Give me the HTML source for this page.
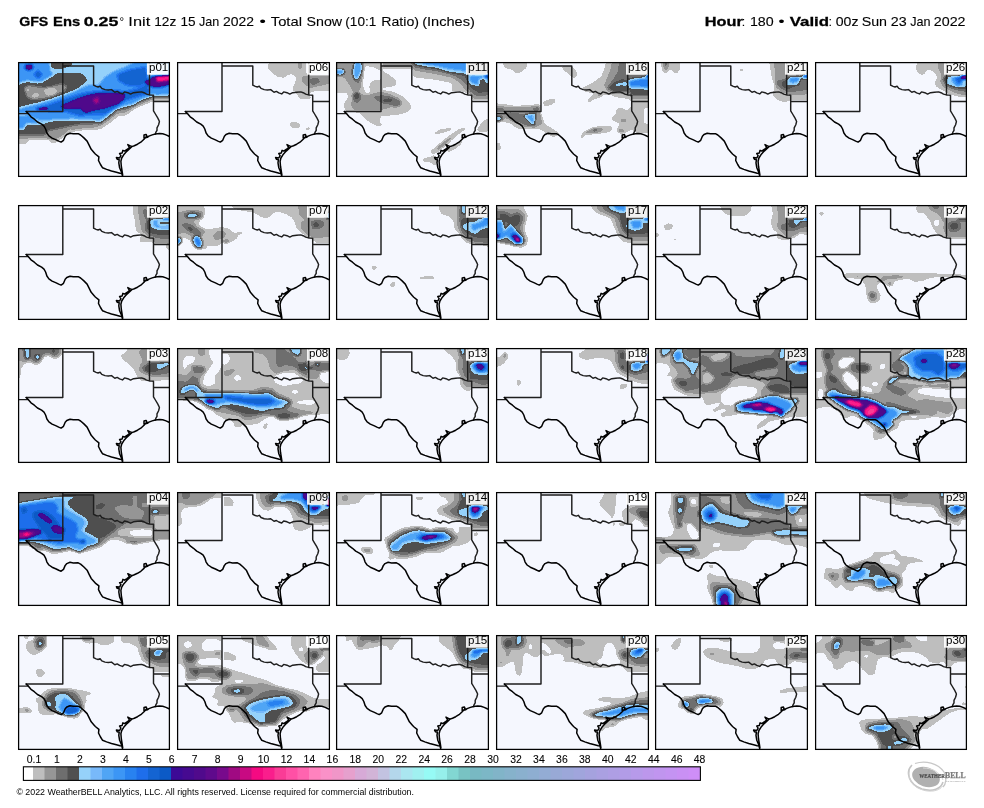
<!DOCTYPE html><html><head><meta charset="utf-8"><title>GFS Ens Total Snow</title>
<style>html,body{margin:0;padding:0;background:#fff}svg{display:block}text{font-family:"Liberation Sans",sans-serif;fill:#000}.ser{font-family:"Liberation Serif",serif}</style></head><body>
<svg width="984" height="808" viewBox="0 0 984 808">
<defs>
<filter id="cm" x="-2%" y="-2%" width="104%" height="104%" color-interpolation-filters="sRGB">
<feGaussianBlur stdDeviation="1.0"/>
<feComponentTransfer><feFuncR type="discrete" tableValues="0.9608 0.9608 0.9608 0.9608 0.9608 0.9608 0.7451 0.7451 0.7451 0.7451 0.7451 0.7451 0.5882 0.5882 0.5882 0.5882 0.5882 0.5882 0.4314 0.4314 0.4314 0.4314 0.4314 0.4314 0.3137 0.3137 0.3137 0.3137 0.3137 0.3137 0.5882 0.5882 0.5882 0.5882 0.5882 0.5882 0.4706 0.4706 0.4706 0.4706 0.3137 0.3137 0.3137 0.3137 0.2353 0.2353 0.2353 0.2353 0.1569 0.1569 0.1569 0.1569 0.1176 0.1176 0.1176 0.1176 0.0784 0.0784 0.0784 0.0784 0.0471 0.0471 0.0471 0.0471 0.2353 0.2353 0.2353 0.2353 0.2745 0.2745 0.2745 0.2745 0.3137 0.3137 0.3137 0.3137 0.3725 0.3725 0.3725 0.3725 0.4706 0.4706 0.4706 0.4706 0.6275 0.6275 0.6275 0.6275 0.7843 0.7843 0.7843 0.7843 0.9608 0.9608 0.9608 0.9608 0.9804 0.9804 0.9804 0.9804 0.9804 0.9804 0.9804 0.9804 1.0000 1.0000 1.0000 1.0000 1.0000 1.0000 1.0000 1.0000 1.0000 1.0000 1.0000 1.0000 0.9804 0.9804 0.9804 0.9804 0.9804 0.9804 0.9804 0.9804 0.9804 0.9804 0.9804 0.9804"/><feFuncG type="discrete" tableValues="0.9725 0.9725 0.9725 0.9725 0.9725 0.9725 0.7451 0.7451 0.7451 0.7451 0.7451 0.7451 0.5882 0.5882 0.5882 0.5882 0.5882 0.5882 0.4314 0.4314 0.4314 0.4314 0.4314 0.4314 0.3137 0.3137 0.3137 0.3137 0.3137 0.3137 0.8235 0.8235 0.8235 0.8235 0.8235 0.8235 0.7255 0.7255 0.7255 0.7255 0.6471 0.6471 0.6471 0.6471 0.5882 0.5882 0.5882 0.5882 0.5098 0.5098 0.5098 0.5098 0.4314 0.4314 0.4314 0.4314 0.3922 0.3922 0.3922 0.3922 0.3529 0.3529 0.3529 0.3529 0.0392 0.0392 0.0392 0.0392 0.0392 0.0392 0.0392 0.0392 0.0392 0.0392 0.0392 0.0392 0.0392 0.0392 0.0392 0.0392 0.0392 0.0392 0.0392 0.0392 0.0392 0.0392 0.0392 0.0392 0.0392 0.0392 0.0392 0.0392 0.0392 0.0392 0.0392 0.0392 0.1176 0.1176 0.1176 0.1176 0.2353 0.2353 0.2353 0.2353 0.3137 0.3137 0.3137 0.3137 0.3922 0.3922 0.3922 0.3922 0.5098 0.5098 0.5098 0.5098 0.5686 0.5686 0.5686 0.5686 0.5686 0.5686 0.5686 0.5686 0.5686 0.5686 0.5686 0.5686"/><feFuncB type="discrete" tableValues="0.9961 0.9961 0.9961 0.9961 0.9961 0.9961 0.7451 0.7451 0.7451 0.7451 0.7451 0.7451 0.5882 0.5882 0.5882 0.5882 0.5882 0.5882 0.4314 0.4314 0.4314 0.4314 0.4314 0.4314 0.3137 0.3137 0.3137 0.3137 0.3137 0.3137 0.9804 0.9804 0.9804 0.9804 0.9804 0.9804 0.9804 0.9804 0.9804 0.9804 0.9608 0.9608 0.9608 0.9608 0.9608 0.9608 0.9608 0.9608 0.9412 0.9412 0.9412 0.9412 0.9216 0.9216 0.9216 0.9216 0.8235 0.8235 0.8235 0.8235 0.7765 0.7765 0.7765 0.7765 0.5882 0.5882 0.5882 0.5882 0.5686 0.5686 0.5686 0.5686 0.5490 0.5490 0.5490 0.5490 0.5490 0.5490 0.5490 0.5490 0.5490 0.5490 0.5490 0.5490 0.5098 0.5098 0.5098 0.5098 0.5098 0.5098 0.5098 0.5098 0.5098 0.5098 0.5098 0.5098 0.5490 0.5490 0.5490 0.5490 0.5882 0.5882 0.5882 0.5882 0.6471 0.6471 0.6471 0.6471 0.6863 0.6863 0.6863 0.6863 0.7451 0.7451 0.7451 0.7451 0.7843 0.7843 0.7843 0.7843 0.7843 0.7843 0.7843 0.7843 0.7843 0.7843 0.7843 0.7843"/><feFuncA type="linear" slope="0" intercept="1"/></feComponentTransfer>
</filter>
<g id="tx" fill="none" stroke-linejoin="round" stroke-linecap="round">
<path d="M44.8,-1 L44.8,49.4 L8.3,49.4 M-1,51.6 L9.6,51.6 M44.8,3.9 L75.6,3.9 L75.6,23.2 M75.6,23.2 L78.1,24.4 L80.1,25 L82.1,24.2 L83.8,26.4 L87,27.6 L90.3,28 L93.5,27.6 L96.8,30.2 L99.2,29.4 L101.6,30.9 L104.5,31.9 L106.5,29.9 L109.8,30.7 L112.6,32.1 L115.5,30.7 L119.5,30.2 L123.6,29.9 L126,30.7 L128.5,32.1 L131.3,32.9 L135.5,33.2 L135.5,48.8 M135.5,48.8 L137.4,52 L139.4,55.3 L140.8,58.1 L141.4,59.6 L140.6,62.7 L139,65.9 L139,68.4 L137.8,70.4 L137.4,72 M131.5,-1 L131.5,32.9 M135.5,39.4 L153,39.4" stroke="#1e1e1e" stroke-width="1.45"/>
<path d="M8.1,49.5 L10.6,51.9 L13,54.8 L16.3,57.2 L19.5,60 L23.6,62.2 L26,64.1 L27.6,67 L28.9,71 L30.9,73.9 L34.1,76.1 L38.2,77.9 L40.7,79.1 L43.1,80.1 L45.5,78.3 L47.2,74.3 L48.8,72.5 L52,71.2 L55.3,71.8 L60.2,71.7 L62.6,73 L65.9,75.9 L69.1,79.1 L71.1,83.2 L73.2,87.3 L76.4,90.9 L77.3,92 L80.9,94.8 L80.5,98.5 L82.5,102.5 L84.6,105.8 L88.6,107.4 L93.5,109 L98.4,110.3 L102,111.3 L104.1,111.6 M104.3,111.6 L104.6,116 M137.4,72 L141.5,71.5 L144.7,71.8 L148,72.9 L151,74.2 L153,75 M137.4,72 L134.2,72.9 L130.9,74.1 L129.3,75.3 L127.3,75.9 L126,76.1 L126,72.9 L128.1,72.4 L128.9,74.1 L127.3,75.7 L126,77.3 L122.8,80.2 L119.5,82.2 L116.3,83.7 L113.8,84.6 L112.2,83.8 L109.8,82.6 L111.4,85.5 L109,87.5 L106.5,89.1 L104.9,88.3 L104.1,91.1 L101.6,91.6 L102.9,93.6 L101.6,96 L98.4,95.6 L99.2,97.2 L101.2,97.7 L100.8,100.9 L101.6,105.8 L103.3,109.8 L104.2,113.1 M113.8,84.6 L109,89.1 L105.7,92.8 L103.7,96 L102.9,99.3 L103.3,104.2 L104.1,109 L104.7,113.1" stroke="#000" stroke-width="1.5"/>
</g>
<clipPath id="c00"><rect x="18" y="62" width="152" height="115"/></clipPath>
<clipPath id="c01"><rect x="177" y="62" width="153" height="115"/></clipPath>
<clipPath id="c02"><rect x="336" y="62" width="153" height="115"/></clipPath>
<clipPath id="c03"><rect x="496" y="62" width="153" height="115"/></clipPath>
<clipPath id="c04"><rect x="655" y="62" width="153" height="115"/></clipPath>
<clipPath id="c05"><rect x="815" y="62" width="152" height="115"/></clipPath>
<clipPath id="c10"><rect x="18" y="205" width="152" height="115"/></clipPath>
<clipPath id="c11"><rect x="177" y="205" width="153" height="115"/></clipPath>
<clipPath id="c12"><rect x="336" y="205" width="153" height="115"/></clipPath>
<clipPath id="c13"><rect x="496" y="205" width="153" height="115"/></clipPath>
<clipPath id="c14"><rect x="655" y="205" width="153" height="115"/></clipPath>
<clipPath id="c15"><rect x="815" y="205" width="152" height="115"/></clipPath>
<clipPath id="c20"><rect x="18" y="348" width="152" height="115"/></clipPath>
<clipPath id="c21"><rect x="177" y="348" width="153" height="115"/></clipPath>
<clipPath id="c22"><rect x="336" y="348" width="153" height="115"/></clipPath>
<clipPath id="c23"><rect x="496" y="348" width="153" height="115"/></clipPath>
<clipPath id="c24"><rect x="655" y="348" width="153" height="115"/></clipPath>
<clipPath id="c25"><rect x="815" y="348" width="152" height="115"/></clipPath>
<clipPath id="c30"><rect x="18" y="492" width="152" height="114"/></clipPath>
<clipPath id="c31"><rect x="177" y="492" width="153" height="114"/></clipPath>
<clipPath id="c32"><rect x="336" y="492" width="153" height="114"/></clipPath>
<clipPath id="c33"><rect x="496" y="492" width="153" height="114"/></clipPath>
<clipPath id="c34"><rect x="655" y="492" width="153" height="114"/></clipPath>
<clipPath id="c35"><rect x="815" y="492" width="152" height="114"/></clipPath>
<clipPath id="c40"><rect x="18" y="635" width="152" height="115"/></clipPath>
<clipPath id="c41"><rect x="177" y="635" width="153" height="115"/></clipPath>
<clipPath id="c42"><rect x="336" y="635" width="153" height="115"/></clipPath>
<clipPath id="c43"><rect x="496" y="635" width="153" height="115"/></clipPath>
<clipPath id="c44"><rect x="655" y="635" width="153" height="115"/></clipPath>
<clipPath id="c45"><rect x="815" y="635" width="152" height="115"/></clipPath>
</defs>
<rect width="984" height="808" fill="#fff"/>
<g opacity="0.9999">
<g clip-path="url(#c00)">
<g filter="url(#cm)">
<rect x="8" y="52" width="172" height="135" fill="#000"/>
<path fill="rgb(18,18,18)" d="M10.3,54.3 L177.7,54.3 L177.7,101.4 L153.9,101.4 L146.2,104.5 L135.4,109.1 L126.1,116.1 L118.4,116.8 L110.7,123 L101.4,129.2 L95.2,130.7 L82.9,130.7 L72.1,132.3 L64.3,136.9 L56.6,143.1 L51.2,143.9 L48.9,140 L28.8,140 L27.3,143.9 L10.3,143.9 Z"/>
<path fill="rgb(30,30,30)" d="M10.3,54.3 L177.7,54.3 L177.7,99.1 L153.9,99.1 L146.2,102.2 L135.4,106.8 L126.1,112.2 L116.9,113.7 L109.1,119.9 L99.9,126.1 L92.1,127.7 L79.8,127.7 L69,129.2 L62.8,135.4 L53.5,140 L45.8,138.5 L10.3,138.5 Z"/>
<path fill="rgb(54,54,54)" d="M10.3,54.3 L177.7,54.3 L177.7,97.2 L152.4,97.2 L144.7,100.3 L133.9,104.9 L126.1,108.8 L116.9,110.3 L110.7,116.5 L99.9,123.8 L95.2,123.5 L79.8,124.3 L64.3,127.3 L48.9,130.4 L44.3,135.1 L10.3,135.1 Z"/>
<path fill="rgb(30,30,30)" d="M69,126.9 L79.8,125.3 L82.9,128.4 L72.1,130 Z"/>
<path fill="rgb(66,66,66)" d="M10.3,54.3 L177.7,54.3 L177.7,95.2 L153.9,95.2 L152.4,96.8 L141.6,99.8 L133.9,106 L124.6,106.8 L113.8,111.4 L107.6,116.8 L99.9,123.8 L95.2,119.2 L79.8,120.7 L64.3,121.5 L53.5,120.7 L44.3,123.8 L39.6,125.3 L25.7,123.8 L24.2,130 L10.3,130 Z"/>
<path fill="rgb(54,54,54)" d="M10.3,89.8 L21.1,83.6 L27.3,81.3 L38.1,83.6 L48.9,77.4 L58.2,72.8 L69,73.6 L79.8,72.8 L84.4,75.1 L87.5,80.5 L79.8,86.7 L75.2,91.3 L62.8,95.2 L55.1,99.8 L38.1,103.7 L27.3,105.3 L10.3,109.9 Z"/>
<path fill="rgb(30,30,30)" d="M24.2,88.3 L28.8,85.2 L38.1,86.7 L48.9,88.3 L55.1,85.2 L62.8,83.6 L67.4,86.7 L64.3,91.3 L56.6,94.4 L48.9,97.5 L41.2,99.1 L33.4,99.8 L27.3,97.5 Z"/>
<path fill="rgb(18,18,18)" d="M43.5,91.3 L46.6,87.5 L52.8,86.7 L57.4,90.6 L54.3,95.2 L47.3,96 Z"/>
<path fill="rgb(18,18,18)" d="M31.1,95.2 L35.8,92.6 L40.4,94.4 L36.5,97.8 L31.9,97.8 Z"/>
<path fill="rgb(18,18,18)" d="M25.7,89.8 L28,87.5 L30.4,89.8 L28,92.1 Z"/>
<path fill="rgb(54,54,54)" d="M48.9,54.3 L72.1,54.3 L72.1,65.1 L64.3,68.2 L58.2,69.7 L50.4,67.4 Z"/>
<path fill="rgb(92,92,92)" d="M10.3,111.4 L27.3,106.8 L48.9,100.6 L64.3,95.2 L79.8,89 L87.5,85.2 L98.3,85.2 L104.5,77.4 L113.8,71.3 L126.1,66.6 L146.2,55.8 L147.8,74.4 L149.3,92.9 L152.4,95.2 L141.6,99.1 L132.3,103.7 L123,106 L113.8,109.9 L104.5,117.6 L98.3,120.7 L87.5,119.2 L72.1,118.4 L56.6,119.2 L41.2,120.7 L33.4,117.6 L25.7,113 L10.3,114.5 Z"/>
<path fill="rgb(92,92,92)" d="M10.3,54.3 L48.9,54.3 L50.4,71.3 L53.5,74.4 L41.2,82.1 L27.3,80.5 L21.1,82.1 L10.3,85.2 Z"/>
<path fill="rgb(116,116,116)" d="M33.4,74.4 L38.1,69.7 L42.7,74.4 L38.1,79 Z"/>
<path fill="rgb(92,92,92)" d="M149.3,75.9 L177.7,75.9 L177.7,92.9 L157,95.2 L149.3,92.9 Z"/>
<path fill="rgb(92,92,92)" d="M10.3,116.1 L28.8,115.3 L39.6,123 L27.3,123 L22.6,128.4 L10.3,128.4 Z"/>
<path fill="rgb(116,116,116)" d="M38.1,108.3 L64.3,99.1 L82.9,92.9 L95.2,91.3 L110.7,89.8 L126.1,91.3 L138.5,88.3 L147.8,83.6 L149.3,92.9 L135.4,97.5 L126.1,100.6 L116.9,106.8 L104.5,114.5 L92.1,114.5 L79.8,116.1 L64.3,111.4 L48.9,111.4 Z"/>
<path fill="rgb(116,116,116)" d="M116.9,74.4 L129.2,69.7 L146.2,66.6 L147.8,82.1 L138.5,86.7 L126.1,85.2 L118.4,80.5 Z"/>
<path fill="rgb(148,148,148)" d="M59.7,106.8 L69,102.2 L82.9,96.8 L95.2,93.7 L110.7,92.9 L124.6,93.7 L124.6,98.3 L118.4,103.7 L104.5,108.3 L92.1,110.7 L86,113 L79.8,108.3 L67.4,109.1 Z"/>
<path fill="rgb(148,148,148)" d="M35.8,108.3 L45.8,106.8 L48.9,109.9 L38.1,110.2 Z"/>
<path fill="rgb(148,148,148)" d="M25,65.1 L31.9,63.9 L33.4,68.2 L28.8,70.5 L25,69 Z"/>
<path fill="rgb(148,148,148)" d="M144.7,81.3 L149.3,79 L152.4,75.9 L177.7,75.1 L177.7,82.1 L163.2,86.7 L153.9,87.5 L146.2,84.4 Z"/>
<path fill="rgb(172,172,172)" d="M92.1,99.1 L98.3,96.8 L99.9,102.2 L95.2,104.5 Z"/>
<path fill="rgb(196,196,196)" d="M155.5,75.9 L177.7,75.1 L177.7,79 L163.2,81.3 L157,82.1 Z"/>
</g>
<use href="#tx" transform="translate(18,62)"/>
</g>
<rect x="147" y="63.2" width="21.6" height="11.5" fill="#fff" fill-opacity="0.9"/>
<text x="149" y="70.6" font-size="10.6" textLength="19.3" lengthAdjust="spacingAndGlyphs">p01</text>
<rect x="18.6" y="62.6" width="150.8" height="113.8" fill="none" stroke="#000" stroke-width="1.25"/>
<g clip-path="url(#c01)">
<g filter="url(#cm)">
<rect x="167" y="52" width="173" height="135" fill="#000"/>
<path fill="rgb(18,18,18)" d="M267.4,64.3 L275.9,55.5 L306.8,55.5 L306.8,74.4 L309.1,75.1 L336.7,75.1 L336.7,91.3 L311.4,92.1 L309.8,95.2 L312.9,99.1 L300.6,99.8 L297.5,96.8 L295.9,92.9 L291.3,89.8 L294.4,83.6 L295.9,77.4 L291.3,74.4 L286.7,75.9 L285.1,78.2 L277.4,77.4 L271.2,72.8 L267.4,69 Z"/>
<path fill="rgb(30,30,30)" d="M297.5,65.1 L300.6,55.8 L302.1,68.2 L299,69.7 Z"/>
<path fill="rgb(30,30,30)" d="M302.1,75.9 L308.3,75.1 L336.7,75.9 L336.7,82.1 L322.2,85.2 L316,86.7 L309.8,88.3 L303.7,83.6 L301.3,79.8 Z"/>
<path fill="rgb(42,42,42)" d="M309.8,79 L317.6,77.4 L320.7,82.1 L312.9,85.2 L309.8,83.6 Z"/>
<path fill="rgb(18,18,18)" d="M288.2,123.8 L292.1,121.5 L296.7,121.5 L300.6,123.8 L300.6,127.7 L295.9,129.2 L291.3,127.7 Z"/>
<path fill="rgb(18,18,18)" d="M304.4,128.4 L309.8,126.1 L310.6,129.2 L306.8,131.2 Z"/>
</g>
<use href="#tx" transform="translate(177.2,62)"/>
</g>
<rect x="307" y="63.2" width="21.6" height="11.5" fill="#fff" fill-opacity="0.9"/>
<text x="309" y="70.6" font-size="10.6" textLength="19.3" lengthAdjust="spacingAndGlyphs">p06</text>
<rect x="177.6" y="62.6" width="151.8" height="113.8" fill="none" stroke="#000" stroke-width="1.25"/>
<g clip-path="url(#c02)">
<g filter="url(#cm)">
<rect x="326" y="52" width="173" height="135" fill="#000"/>
<path fill="rgb(18,18,18)" d="M329.3,54.3 L496.7,54.3 L496.7,100.6 L472.9,100.6 L469.8,95.2 L463.7,92.1 L454.4,91.3 L451.3,92.9 L451.3,83.6 L437.4,80.5 L423.5,79 L412.7,77.4 L412.7,66.6 L395.7,65.9 L383.3,66.6 L383.3,71.3 L389.5,74.4 L395.7,79 L397.2,85.2 L391.1,87.5 L382.6,88.3 L382.6,89.8 L391.1,90.6 L401.9,95.2 L409.6,102.2 L412.7,107.6 L408.1,112.2 L398.8,115.3 L389.5,116.1 L381.8,116.1 L379.5,120.7 L383.3,125.3 L378.7,126.9 L371,123.8 L364.8,119.2 L360.2,113.7 L349.4,111.4 L344.7,111.4 L343.2,103.7 L347.8,97.5 L346.3,92.9 L329.3,94.4 Z"/>
<path fill="rgb(0,0,0)" d="M365.6,66.6 L372.5,67.4 L381,71.3 L381,79 L374.1,79.8 L370.2,82.1 L368.7,86.7 L370.2,92.1 L366.3,92.9 L363.3,85.2 L364,74.4 Z"/>
<path fill="rgb(30,30,30)" d="M352.4,99.1 L357.1,92.9 L361.7,94.4 L367.9,95.2 L374.1,92.9 L381.8,92.1 L391.1,94.4 L398.8,98.3 L401.9,102.9 L398.8,106.8 L389.5,107.6 L381.8,109.9 L354,109.9 L350.9,105.3 Z"/>
<path fill="rgb(30,30,30)" d="M329.3,54.3 L364.8,54.3 L363.3,71.3 L361.7,80.5 L360.2,89.8 L354,92.9 L349.4,85.2 L344.7,77.4 L329.3,75.9 Z"/>
<path fill="rgb(30,30,30)" d="M383.3,54.3 L496.7,54.3 L496.7,99.1 L472.9,99.1 L469.8,93.7 L465.2,89.8 L459,82.1 L451.3,77.4 L437.4,74.4 L423.5,72 L414.2,70.5 L412.7,68.2 L383.3,68.2 Z"/>
<path fill="rgb(42,42,42)" d="M372.5,96.8 L381.8,95.2 L391.1,96.8 L400.3,100.6 L401.1,105.3 L395.7,107.1 L389.5,104.5 L381.8,102.9 L377.2,100.6 Z"/>
<path fill="rgb(42,42,42)" d="M350.9,71.3 L354,65.1 L361.7,65.1 L361.7,77.4 L358.6,83.6 L354,80.5 Z"/>
<path fill="rgb(42,42,42)" d="M351.7,95.2 L355.5,91.3 L360.2,92.9 L361.7,97.5 L358.6,102.9 L354,102.2 Z"/>
<path fill="rgb(42,42,42)" d="M406.5,54.3 L496.7,54.3 L496.7,92.9 L483.7,96 L476,96 L469.8,91.3 L466.8,85.2 L460.6,79 L451.3,74.4 L437.4,71.3 L423.5,69 L414.2,67.4 Z"/>
<path fill="rgb(54,54,54)" d="M383.3,99.1 L391.1,98.3 L393.4,100.6 L389.5,102.5 L383.3,102.5 Z"/>
<path fill="rgb(54,54,54)" d="M354,93.7 L357.9,92.1 L360.2,96 L357.9,99.8 L354.3,98.3 Z"/>
<path fill="rgb(54,54,54)" d="M411.1,54.3 L496.7,54.3 L496.7,89.8 L479.1,92.9 L471.4,88.3 L465.2,75.9 L448.2,72.8 L435.9,69 L423.5,67.4 L414.2,65.1 Z"/>
<path fill="rgb(66,66,66)" d="M406.5,54.3 L466.8,54.3 L466.8,74.4 L496.7,75.1 L496.7,82.1 L485.3,82.9 L479.1,83.6 L471.4,85.2 L468.3,82.1 L465.2,73.6 L448.2,72 L435.9,67.4 L423.5,65.9 L414.2,64.3 Z"/>
<path fill="rgb(92,92,92)" d="M414.2,54.3 L466.8,54.3 L466.8,71.3 L454.4,69.7 L445.1,68.2 L435.9,65.9 L423.5,64.3 Z"/>
<path fill="rgb(92,92,92)" d="M469.8,75.9 L496.7,75.9 L496.7,80.5 L479.1,79 L478.3,85.2 L472.9,83.6 L469.8,80.5 Z"/>
<path fill="rgb(54,54,54)" d="M479.1,79 L485.3,77.4 L485.3,83.6 L479.1,85.2 Z"/>
<path fill="rgb(84,84,84)" d="M354,65.1 L357.1,55.5 L361.7,64.3 L361.7,71.3 L358.6,77.4 L355.5,80.5 L353.2,74.4 Z"/>
<path fill="rgb(84,84,84)" d="M329.3,69.7 L343.2,69 L344.7,72.8 L341.6,75.1 L329.3,73.6 Z"/>
<path fill="rgb(148,148,148)" d="M485.3,75.1 L496.7,75.1 L496.7,77.4 L485.3,77.4 Z"/>
<path fill="rgb(18,18,18)" d="M433.5,133.1 L439,129.2 L451.3,126.9 L452.9,130 L443.6,133.1 L435.9,135.4 Z"/>
<path fill="rgb(18,18,18)" d="M429.7,150.8 L435.9,146.2 L442,140.8 L449.8,134.6 L459,128.4 L466.8,126.1 L465.2,130 L459,134.6 L451.3,140.8 L448.2,145.4 L442,148.5 L437.4,153.1 L431.2,154.7 Z"/>
<path fill="rgb(18,18,18)" d="M421.2,159.3 L426.6,157 L435.9,154.7 L437.4,160.9 L435.9,167 L429.7,162.4 L423.5,162.4 Z"/>
<path fill="rgb(18,18,18)" d="M413.5,142.3 L417.3,140.8 L418.9,142.3 L415,144.6 Z"/>
<path fill="rgb(18,18,18)" d="M445.1,150 L451.3,147 L460.6,140.8 L465.2,139.2 L460.6,145.4 L454.4,150 L448.2,153.1 Z"/>
<path fill="rgb(18,18,18)" d="M476,130 L482.2,120.7 L496.7,114.5 L496.7,130 L480.7,133.1 Z"/>
<path fill="rgb(30,30,30)" d="M435.9,148.5 L442,143.1 L449.8,137.7 L454.4,134.6 L451.3,139.2 L445.1,144.6 L439,150.8 Z"/>
</g>
<use href="#tx" transform="translate(336.2,62)"/>
</g>
<rect x="466" y="63.2" width="21.6" height="11.5" fill="#fff" fill-opacity="0.9"/>
<text x="468" y="70.6" font-size="10.6" textLength="19.3" lengthAdjust="spacingAndGlyphs">p11</text>
<rect x="336.6" y="62.6" width="151.8" height="113.8" fill="none" stroke="#000" stroke-width="1.25"/>
<g clip-path="url(#c03)">
<g filter="url(#cm)">
<rect x="486" y="52" width="173" height="135" fill="#000"/>
<path fill="rgb(18,18,18)" d="M500.6,54.3 L528.4,54.3 L526.9,68.2 L520.7,72.8 L516.1,74.4 L511.4,69.7 L503.7,68.2 Z"/>
<path fill="rgb(18,18,18)" d="M488.3,102.2 L505.3,103.7 L516.1,106 L526.9,104.5 L540.8,103.7 L540.8,111.4 L545.4,123.8 L557.8,131.5 L560.9,134.6 L553.2,137.7 L547,134.6 L540.8,130 L530,128.4 L522.3,130 L516.1,128.4 L509.9,123.8 L502.2,122.2 L488.3,123.8 Z"/>
<path fill="rgb(18,18,18)" d="M542.3,101.4 L548.5,99.1 L555.5,98.3 L556.2,102.2 L550.1,106 L543.9,106.8 Z"/>
<path fill="rgb(18,18,18)" d="M560.1,65.9 L571.7,65.9 L576.3,69.7 L577.9,75.9 L573.2,79 L568.6,74.4 L564,71.3 Z"/>
<path fill="rgb(18,18,18)" d="M582.5,86.7 L588.7,84.4 L594.9,80.5 L601,75.9 L604.1,68.2 L607.2,54.3 L655.7,54.3 L655.7,133.1 L635,133.1 L631.9,130 L625.8,133.1 L619.6,133.1 L616.5,128.4 L619.6,123.8 L613.4,121.5 L610.3,117.6 L614.9,114.5 L616.5,108.3 L619.6,106.8 L627.3,109.9 L630.4,106.8 L630.4,100.6 L625.8,99.1 L614.9,97.5 L610.3,95.2 L604.1,95.2 L601,97.5 L594.9,99.8 L588.7,102.9 L586.4,100.6 L590.2,96 L594.9,92.9 L588.7,92.9 L582.5,91.3 Z"/>
<path fill="rgb(18,18,18)" d="M580.2,136.1 L582.5,131.5 L591.8,127.7 L601,125.3 L610.3,125.3 L613.4,128.4 L610.3,132.3 L602.6,133.8 L591.8,134.6 L584,136.1 L583.3,139.2 L580.7,139.2 Z"/>
<path fill="rgb(18,18,18)" d="M589.1,70.5 L591,68.6 L592.9,70.5 L591,72.3 Z"/>
<path fill="rgb(18,18,18)" d="M488.3,142.3 L500.6,142.3 L501.4,150 L488.3,153.1 Z"/>
<path fill="rgb(0,0,0)" d="M644.3,108.3 L654.3,107.6 L654.3,123.8 L644.3,123 Z"/>
<path fill="rgb(30,30,30)" d="M488.3,105.3 L505.3,106.8 L526.9,106.8 L540,106 L540,111.4 L542.3,123.8 L534.6,127.7 L526.9,126.9 L519.2,125.3 L511.4,120.7 L503.7,117.6 L488.3,120.7 Z"/>
<path fill="rgb(30,30,30)" d="M604.1,85.2 L607.2,77.4 L610.3,69.7 L613.4,54.3 L655.7,54.3 L655.7,99.1 L631.9,99.1 L628.8,92.9 L613.4,93.7 L607.2,91.3 Z"/>
<path fill="rgb(30,30,30)" d="M584,132.3 L591.8,128.4 L601,126.9 L604.1,130 L598,133.1 L588.7,133.8 Z"/>
<path fill="rgb(30,30,30)" d="M616.5,130 L619.6,128.4 L624.2,130 L624.2,133.1 L619.6,133.8 Z"/>
<path fill="rgb(30,30,30)" d="M596.4,93.7 L601,92.9 L602.6,95.2 L598,96.8 Z"/>
<path fill="rgb(30,30,30)" d="M619.6,119.2 L625.8,118.4 L627.3,121.5 L621.1,122.2 Z"/>
<path fill="rgb(42,42,42)" d="M506.8,112.2 L516.1,113 L523.8,114.5 L526.9,120.7 L531.5,123.8 L534.6,126.9 L526.9,126.1 L519.2,122.2 L511.4,119.2 Z"/>
<path fill="rgb(42,42,42)" d="M607.2,86.7 L613.4,79 L618,71.3 L619.6,55.8 L625.8,55.8 L625.8,75.1 L655.7,75.1 L655.7,96 L631.9,96 L627.3,92.1 L613.4,92.1 Z"/>
<path fill="rgb(42,42,42)" d="M591.8,129.2 L596.4,127.7 L598,130.7 L593.3,132.3 Z"/>
<path fill="rgb(42,42,42)" d="M488.3,106.8 L503.7,107.6 L503.7,112.2 L488.3,112.2 Z"/>
<path fill="rgb(42,42,42)" d="M531.5,107.6 L539.3,106.8 L539.3,110.7 L533.1,110.7 Z"/>
<path fill="rgb(54,54,54)" d="M607.2,88.3 L614.9,82.1 L622.7,79 L627.3,80.5 L627.3,92.1 L613.4,91.7 Z"/>
<path fill="rgb(54,54,54)" d="M628.8,89.8 L655.7,92.9 L655.7,95.2 L631.9,95.2 Z"/>
<path fill="rgb(66,66,66)" d="M523,115.3 L528.4,113.7 L536.2,112.2 L535.4,119.2 L534.6,126.1 L530.8,123.8 L526.9,119.2 Z"/>
<path fill="rgb(66,66,66)" d="M488.3,115.3 L500.6,116.1 L503.7,118.4 L499.1,121.5 L488.3,121.5 Z"/>
<path fill="rgb(66,66,66)" d="M614.2,84.4 L619.6,82.9 L627.3,82.1 L628.1,85.9 L621.1,85.2 L614.9,86.4 Z"/>
<path fill="rgb(66,66,66)" d="M628.1,79 L638.1,77.4 L655.7,75.9 L655.7,92.1 L641.2,89.8 L628.8,89 Z"/>
<path fill="rgb(84,84,84)" d="M524.6,116.1 L533.1,113.7 L533.8,123.8 L529.2,120.7 Z"/>
<path fill="rgb(100,100,100)" d="M628.8,81.3 L639.7,79 L655.7,79 L655.7,88.3 L639.7,86.7 L630.4,86.7 Z"/>
<path fill="rgb(148,148,148)" d="M646.1,75.1 L655.7,75.1 L655.7,77.4 L646.1,77.4 Z"/>
</g>
<use href="#tx" transform="translate(496.2,62)"/>
</g>
<rect x="626" y="63.2" width="21.6" height="11.5" fill="#fff" fill-opacity="0.9"/>
<text x="628" y="70.6" font-size="10.6" textLength="19.3" lengthAdjust="spacingAndGlyphs">p16</text>
<rect x="496.6" y="62.6" width="151.8" height="113.8" fill="none" stroke="#000" stroke-width="1.25"/>
<g clip-path="url(#c04)">
<g filter="url(#cm)">
<rect x="645" y="52" width="173" height="135" fill="#000"/>
<path fill="rgb(18,18,18)" d="M658.1,55 L679.7,55 L680.5,69.7 L676.6,74.4 L672.8,72.8 L670.4,69 L665.8,74.4 L662,71.3 Z"/>
<path fill="rgb(18,18,18)" d="M738.7,70 L741.5,67.6 L744.6,70 L741.5,72.8 Z"/>
<path fill="rgb(18,18,18)" d="M767.8,55 L814.7,55 L814.7,99.8 L800.2,100.6 L790.9,100.6 L784.8,102.9 L777,100.6 L772.4,96 L773.9,85.2 L770.9,75.9 Z"/>
<path fill="rgb(30,30,30)" d="M773.9,55 L784.8,55 L784.8,75.1 L814.7,75.1 L814.7,92.9 L800.2,95.2 L790.9,95.2 L781.7,92.1 L775.5,86.7 Z"/>
<path fill="rgb(30,30,30)" d="M662,55.8 L669.7,55.8 L668.1,69 L664.3,70.5 Z"/>
<path fill="rgb(42,42,42)" d="M776.3,80.5 L784.8,79 L787.1,77.4 L814.7,77.4 L814.7,88.3 L798.7,91.3 L787.8,92.1 L781.7,89 L777,85.2 Z"/>
<path fill="rgb(42,42,42)" d="M663.5,55.8 L668.1,55.8 L666.6,66.6 L664.3,66.6 Z"/>
<path fill="rgb(54,54,54)" d="M780.9,82.9 L786.3,79.8 L787.8,86.7 L794,87.5 L787.8,89.8 L783.2,87.5 Z"/>
<path fill="rgb(66,66,66)" d="M785.5,82.1 L789.4,76.7 L814.7,75.9 L814.7,78.2 L800.2,79 L798.7,85.2 L790.9,85.9 L786.3,85.2 Z"/>
<path fill="rgb(92,92,92)" d="M789.4,77.4 L798.7,76.7 L799.4,80.5 L794,82.9 L789.4,82.1 Z"/>
<path fill="rgb(148,148,148)" d="M802.5,75.1 L814.7,75.1 L814.7,77.4 L803.3,76.7 Z"/>
</g>
<use href="#tx" transform="translate(655.2,62)"/>
</g>
<rect x="785" y="63.2" width="21.6" height="11.5" fill="#fff" fill-opacity="0.9"/>
<text x="787" y="70.6" font-size="10.6" textLength="19.3" lengthAdjust="spacingAndGlyphs">p21</text>
<rect x="655.6" y="62.6" width="151.8" height="113.8" fill="none" stroke="#000" stroke-width="1.25"/>
<g clip-path="url(#c05)">
<g filter="url(#cm)">
<rect x="805" y="52" width="172" height="135" fill="#000"/>
<path fill="rgb(18,18,18)" d="M915.4,66.6 L920,55.5 L974.7,55.5 L974.7,98.3 L960.2,97.5 L950.9,95.2 L941.7,90.6 L935.5,86.7 L933.9,82.1 L937,77.4 L933.9,72.8 L929.3,69.7 L926.2,71.3 L924.7,75.1 L920,75.1 L916.2,71.3 Z"/>
<path fill="rgb(30,30,30)" d="M937,55.5 L944.8,55.5 L944.8,75.1 L974.7,75.1 L974.7,95.2 L960.2,94.4 L950.9,91.3 L943.2,86.7 L940.1,82.1 L941.7,75.9 L938.6,69.7 Z"/>
<path fill="rgb(42,42,42)" d="M941.7,77.4 L946.3,75.1 L974.7,75.1 L974.7,92.1 L960.2,91.3 L950.9,88.3 L944.8,85.2 Z"/>
<path fill="rgb(54,54,54)" d="M943.2,79 L946.3,76.7 L974.7,76.7 L974.7,89 L957.1,88.3 L947.8,85.2 Z"/>
<path fill="rgb(66,66,66)" d="M945.5,82.1 L948.6,75.9 L974.7,75.6 L974.7,83.6 L961.7,87.5 L954,86.7 L947.8,85.2 Z"/>
<path fill="rgb(92,92,92)" d="M950.9,77.4 L960.2,76.7 L963.3,79 L961.7,85.2 L957.1,86.7 L952.5,82.1 Z"/>
<path fill="rgb(116,116,116)" d="M954.8,77.4 L961,76.7 L961.7,82.1 L957.9,83.6 Z"/>
<path fill="rgb(148,148,148)" d="M960.2,75.6 L974.7,75.1 L974.7,79 L961.7,79.8 Z"/>
<path fill="rgb(196,196,196)" d="M963.3,75.1 L974.7,75.1 L974.7,76.7 L963.3,76.7 Z"/>
</g>
<use href="#tx" transform="translate(815,62)"/>
</g>
<rect x="944" y="63.2" width="21.6" height="11.5" fill="#fff" fill-opacity="0.9"/>
<text x="946" y="70.6" font-size="10.6" textLength="19.3" lengthAdjust="spacingAndGlyphs">p26</text>
<rect x="815.6" y="62.6" width="150.8" height="113.8" fill="none" stroke="#000" stroke-width="1.25"/>
<g clip-path="url(#c10)">
<g filter="url(#cm)">
<rect x="8" y="195" width="172" height="135" fill="#000"/>
<path fill="rgb(18,18,18)" d="M132.3,198.5 L177.7,198.5 L177.7,251.3 L166.3,249.8 L164.7,243.6 L153.9,243.6 L147.8,242.1 L140,242.8 L138.5,239 L141.6,235.1 L135.4,231.3 L134.6,220.4 L132.3,212.7 Z"/>
<path fill="rgb(30,30,30)" d="M136.9,198.5 L147.8,198.5 L147.8,218.1 L177.7,218.1 L177.7,243.6 L153.9,243.6 L153.9,238.2 L147.8,235.9 L141.6,231.3 L140,222 L138.5,214.3 Z"/>
<path fill="rgb(42,42,42)" d="M141.6,209.6 L147.8,209.6 L147.8,218.1 L177.7,218.1 L177.7,239.8 L157,238.2 L149.3,235.9 L144.7,229.7 L146.2,220.4 Z"/>
<path fill="rgb(54,54,54)" d="M147,220.4 L150.1,218.1 L177.7,218.1 L177.7,234.3 L160.1,235.1 L150.8,233.6 L147,228.2 Z"/>
<path fill="rgb(66,66,66)" d="M150.8,219.7 L177.7,218.6 L177.7,230.5 L160.1,229.7 L152.4,228.2 L150.1,223.5 Z"/>
<path fill="rgb(84,84,84)" d="M153.2,219.7 L177.7,218.9 L177.7,220.4 L158.6,220.4 L157.8,225.1 L163.2,225.9 L177.7,224.3 L177.7,228.2 L157,228.2 L153.2,225.1 Z"/>
<path fill="rgb(54,54,54)" d="M158.6,221.2 L176.3,220.4 L176.3,223.5 L161.7,225.1 L158.6,224.3 Z"/>
<path fill="rgb(148,148,148)" d="M163.2,218.1 L177.7,218.1 L177.7,219.4 L163.2,219.4 Z"/>
</g>
<use href="#tx" transform="translate(18,205)"/>
</g>
<rect x="147" y="206.2" width="21.6" height="11.5" fill="#fff" fill-opacity="0.9"/>
<text x="149" y="213.6" font-size="10.6" textLength="19.3" lengthAdjust="spacingAndGlyphs">p02</text>
<rect x="18.6" y="205.6" width="150.8" height="113.8" fill="none" stroke="#000" stroke-width="1.25"/>
<g clip-path="url(#c11)">
<g filter="url(#cm)">
<rect x="167" y="195" width="173" height="135" fill="#000"/>
<path fill="rgb(18,18,18)" d="M169.3,198.5 L203.3,198.5 L205.6,211.2 L204,217.4 L200.2,220.4 L199.4,225.1 L204.8,228.2 L212.5,228.2 L221.8,226.6 L229.5,228.2 L234.2,232.8 L240.3,231.3 L243.4,231.3 L243.4,234.3 L238.8,235.1 L237.2,239 L229.5,243.6 L221.8,243.6 L217.2,246.7 L207.9,245.9 L206.3,249.8 L197.1,249.8 L192.4,245.2 L189.4,240.5 L183.2,237.4 L169.3,245.2 Z"/>
<path fill="rgb(18,18,18)" d="M228,198.5 L336.7,198.5 L336.7,243.6 L316,243.6 L312.9,240.5 L306.8,237.4 L300.6,232.8 L295.9,228.2 L294.4,222 L291.3,217.4 L285.1,214.3 L277.4,212 L272.8,214.3 L269.7,218.1 L262,218.1 L257.3,215 L252.7,212.7 L241.9,211.2 L232.6,208.9 Z"/>
<path fill="rgb(30,30,30)" d="M170.8,214.3 L183.2,211.2 L192.4,209.6 L201.7,211.2 L204,215.8 L200.2,219.7 L192.4,220.4 L197.1,226.6 L206.3,231.3 L201.7,235.9 L203.3,243.6 L201.7,248.3 L197.1,249 L192.4,244.4 L190.9,235.9 L184.7,232.8 L169.3,235.9 L169.3,220.4 Z"/>
<path fill="rgb(30,30,30)" d="M212.5,235.9 L217.2,231.3 L223.3,230.5 L226.4,233.6 L223.3,238.2 L215.6,240.5 Z"/>
<path fill="rgb(30,30,30)" d="M297.5,198.5 L306.8,198.5 L306.8,218.1 L336.7,218.1 L336.7,235.9 L322.2,237.4 L312.9,237.4 L306.8,234.3 L300.6,228.2 L300.6,222 L305.2,220.4 L299,214.3 Z"/>
<path fill="rgb(42,42,42)" d="M180.9,224.3 L186.3,222.8 L192.4,225.1 L200.2,231.3 L201.7,235.9 L195.5,234.3 L190.9,232.8 L186.3,229.7 Z"/>
<path fill="rgb(42,42,42)" d="M183.2,213.5 L192.4,211.2 L201.7,212.7 L201.7,217.4 L192.4,218.9 L184.7,218.1 Z"/>
<path fill="rgb(42,42,42)" d="M309.8,222 L316,219.7 L322.2,220.4 L325.3,225.1 L320.7,228.2 L312.9,229.7 Z"/>
<path fill="rgb(42,42,42)" d="M223.3,240.5 L228,239.8 L228.7,242.1 L224.1,242.8 Z"/>
<path fill="rgb(54,54,54)" d="M186.3,226.6 L190.9,226.6 L194,230.5 L190.1,231.3 Z"/>
<path fill="rgb(54,54,54)" d="M312.9,223.5 L317.6,221.2 L319.1,226.6 L314.5,228.2 Z"/>
<path fill="rgb(66,66,66)" d="M186.3,215 L190.9,212.7 L197.1,213.5 L198.6,216.6 L192.4,218.1 L187,218.1 Z"/>
<path fill="rgb(66,66,66)" d="M192.4,239 L194.8,235.1 L199.4,235.9 L202.5,242.1 L201.7,247.5 L197.9,248.3 L194,244.4 Z"/>
<path fill="rgb(66,66,66)" d="M169.3,235.9 L180.9,237.4 L182.4,241.3 L179.3,245.2 L169.3,245.9 Z"/>
<path fill="rgb(100,100,100)" d="M194,239.8 L196.3,236.7 L199.4,238.2 L201.4,242.8 L200.2,246.7 L197.1,246.7 Z"/>
<path fill="rgb(100,100,100)" d="M169.3,238.2 L180.1,239 L180.1,242.8 L169.3,244.4 Z"/>
<path fill="rgb(66,66,66)" d="M326.1,211.2 L336.7,211.2 L336.7,218.9 L326.1,218.9 Z"/>
</g>
<use href="#tx" transform="translate(177.2,205)"/>
</g>
<rect x="307" y="206.2" width="21.6" height="11.5" fill="#fff" fill-opacity="0.9"/>
<text x="309" y="213.6" font-size="10.6" textLength="19.3" lengthAdjust="spacingAndGlyphs">p07</text>
<rect x="177.6" y="205.6" width="151.8" height="113.8" fill="none" stroke="#000" stroke-width="1.25"/>
<g clip-path="url(#c12)">
<g filter="url(#cm)">
<rect x="326" y="195" width="173" height="135" fill="#000"/>
<path fill="rgb(18,18,18)" d="M438.2,198.5 L496.7,198.5 L496.7,249.8 L483.7,245.9 L472.9,244.4 L466.8,243.6 L462.1,239.8 L459,234.3 L454.4,229.7 L452.9,220.4 L448.2,216.6 L442,215 L439,211.2 Z"/>
<path fill="rgb(30,30,30)" d="M455.9,198.5 L496.7,198.5 L496.7,243.6 L472.9,243.6 L466.8,240.5 L460.6,234.3 L457.5,226.6 L457.5,214.3 Z"/>
<path fill="rgb(42,42,42)" d="M459,209.6 L496.7,209.6 L496.7,243.6 L476,242.8 L468.3,238.2 L462.1,232.8 L459.8,223.5 Z"/>
<path fill="rgb(54,54,54)" d="M460.6,218.9 L466.8,218.1 L496.7,218.1 L496.7,237.4 L482.2,238.2 L472.9,236.7 L465.2,232 L461.3,226.6 Z"/>
<path fill="rgb(66,66,66)" d="M462.1,225.9 L466.8,222.8 L476,222 L479.1,218.1 L496.7,218.6 L496.7,223.5 L485.3,228.2 L480.7,229.7 L476,234.3 L471.4,232.8 L468.3,230.5 L463.7,229.7 Z"/>
<path fill="rgb(66,66,66)" d="M460.6,198.5 L466,198.5 L466,214.3 L461.3,213.5 Z"/>
<path fill="rgb(92,92,92)" d="M471.4,224.3 L479.1,222.8 L483.7,219.7 L496.7,219.7 L485.3,226.6 L479.1,228.2 L474.5,230.5 L471.4,228.2 Z"/>
<path fill="rgb(148,148,148)" d="M483.7,218.1 L496.7,218.1 L496.7,219.2 L483.7,219.2 Z"/>
<path fill="rgb(18,18,18)" d="M370.2,266 L374.1,264.9 L377.9,266.8 L376.4,269.9 L373.3,270.7 Z"/>
<path fill="rgb(18,18,18)" d="M389.5,283.8 L393.4,281 L396.5,282.2 L394.9,286.9 L390.3,288.4 Z"/>
<path fill="rgb(18,18,18)" d="M418.1,276.8 L423.5,276.1 L435.1,276.1 L435.1,279.5 L419.6,279.5 Z"/>
</g>
<use href="#tx" transform="translate(336.2,205)"/>
</g>
<rect x="466" y="206.2" width="21.6" height="11.5" fill="#fff" fill-opacity="0.9"/>
<text x="468" y="213.6" font-size="10.6" textLength="19.3" lengthAdjust="spacingAndGlyphs">p12</text>
<rect x="336.6" y="205.6" width="151.8" height="113.8" fill="none" stroke="#000" stroke-width="1.25"/>
<g clip-path="url(#c13)">
<g filter="url(#cm)">
<rect x="486" y="195" width="173" height="135" fill="#000"/>
<path fill="rgb(18,18,18)" d="M488.3,198.5 L520.7,198.5 L525.3,209.6 L528.4,215.8 L526.1,223.5 L525.3,231.3 L529.2,239 L526.9,245.2 L522.3,248.3 L514.5,247.5 L509.9,242.1 L503.7,241.3 L488.3,242.1 Z"/>
<path fill="rgb(18,18,18)" d="M588.7,198.5 L655.7,198.5 L655.7,243.6 L635,244.4 L628.8,243.6 L622.7,242.1 L618,237.4 L613.4,226.6 L610.3,218.9 L602.6,215.8 L596.4,213.5 L591.8,209.6 Z"/>
<path fill="rgb(30,30,30)" d="M488.3,208.1 L505.3,208.9 L511.4,209.6 L519.2,208.9 L524.6,213.5 L525.3,220.4 L522.3,226.6 L524.6,235.9 L525.3,243.6 L514.5,245.9 L488.3,240.5 Z"/>
<path fill="rgb(30,30,30)" d="M594.9,198.5 L655.7,198.5 L655.7,240.5 L635,241.3 L627.3,239.8 L621.1,235.9 L616.5,226.6 L614.9,218.9 L605.7,213.5 L598,210.4 Z"/>
<path fill="rgb(42,42,42)" d="M488.3,211.2 L505.3,211.2 L511.4,214.3 L517.6,212 L523,215.8 L522.3,222 L519.2,228.2 L523.8,235.9 L523.8,242.8 L514.5,244.9 L488.3,239.8 Z"/>
<path fill="rgb(42,42,42)" d="M598,198.5 L655.7,198.5 L655.7,236.7 L635,237.4 L627.3,235.9 L622.7,231.3 L619.6,220.4 L613.4,214.3 L604.1,210.4 Z"/>
<path fill="rgb(54,54,54)" d="M499.1,214.3 L505.3,213.5 L509.9,217.4 L516.1,214.3 L520.7,216.6 L519.9,222 L516.1,226.6 L511.4,223.5 L505.3,222 L500.6,220.4 Z"/>
<path fill="rgb(54,54,54)" d="M619.6,214.3 L625.8,214.3 L625.8,218.1 L655.7,218.1 L655.7,232.8 L635,234.3 L625.8,232.8 L621.1,226.6 Z"/>
<path fill="rgb(66,66,66)" d="M488.3,219.7 L500.6,218.9 L503.7,223.5 L505.3,229.7 L508.4,224.3 L511.4,223.5 L514.5,228.2 L519.2,232.8 L523.8,238.2 L523.8,243.6 L516.1,245.2 L511.4,241.3 L505.3,237.4 L502.2,239.8 L488.3,240.5 Z"/>
<path fill="rgb(66,66,66)" d="M602.6,198.5 L625.8,198.5 L625.8,213.5 L619.6,213.5 L610.3,210.4 Z"/>
<path fill="rgb(66,66,66)" d="M628.8,219.7 L655.7,218.9 L655.7,222 L642.7,222.8 L642.7,228.2 L635,230.5 L628.8,228.9 L625.8,226.6 Z"/>
<path fill="rgb(92,92,92)" d="M489,222 L501.4,221.2 L503.7,232.8 L508.4,228.2 L511.4,225.9 L516.1,232 L522.3,238.2 L523,242.8 L516.9,243.9 L511.4,239.8 L506.8,235.9 L502.2,238.2 L489,239 Z"/>
<path fill="rgb(92,92,92)" d="M607.2,198.5 L625.8,198.5 L625.8,211.2 L616.5,209.6 Z"/>
<path fill="rgb(92,92,92)" d="M630.4,221.2 L641.2,220.4 L641.2,227.4 L633.5,228.9 Z"/>
<path fill="rgb(116,116,116)" d="M510.7,234.3 L514.5,232.8 L520.7,237.4 L521.5,242.1 L516.1,242.8 L511.4,238.2 Z"/>
<path fill="rgb(148,148,148)" d="M511.4,235.1 L515.3,234.3 L519.9,238.2 L520.4,242.1 L516.1,242.1 Z"/>
<path fill="rgb(148,148,148)" d="M488.3,232.8 L499.9,234.3 L499.1,238.2 L488.3,239 Z"/>
<path fill="rgb(196,196,196)" d="M515.3,238.2 L518.4,237.4 L519.5,241.3 L516.9,241.8 Z"/>
<path fill="rgb(148,148,148)" d="M644.3,218.1 L655.7,218.1 L655.7,219.7 L644.3,219.7 Z"/>
</g>
<use href="#tx" transform="translate(496.2,205)"/>
</g>
<rect x="626" y="206.2" width="21.6" height="11.5" fill="#fff" fill-opacity="0.9"/>
<text x="628" y="213.6" font-size="10.6" textLength="19.3" lengthAdjust="spacingAndGlyphs">p17</text>
<rect x="496.6" y="205.6" width="151.8" height="113.8" fill="none" stroke="#000" stroke-width="1.25"/>
<g clip-path="url(#c14)">
<g filter="url(#cm)">
<rect x="645" y="195" width="173" height="135" fill="#000"/>
<path fill="rgb(18,18,18)" d="M716.8,198.5 L753.9,198.5 L750.8,212 L744.6,216.6 L732.2,216.6 L726.1,215 L721.4,211.2 Z"/>
<path fill="rgb(18,18,18)" d="M769.3,198.5 L814.7,198.5 L814.7,237.4 L800.2,234.3 L794,238.2 L787.8,240.5 L778.6,239.8 L775.5,235.9 L777,232.8 L772.4,229.7 L770.1,222 L772.4,214.3 Z"/>
<path fill="rgb(18,18,18)" d="M662.7,225.9 L667.4,222.8 L672,223.5 L674.3,226.6 L670.4,230.5 L665,230.5 Z"/>
<path fill="rgb(18,18,18)" d="M672,218.1 L674.3,215.8 L675.9,218.1 L673.5,220.1 Z"/>
<path fill="rgb(18,18,18)" d="M672,238.2 L677.4,237.7 L678.2,240.5 L673.5,240.8 Z"/>
<path fill="rgb(18,18,18)" d="M647.3,232 L658.9,232.8 L659.6,237.4 L647.3,239 Z"/>
<path fill="rgb(18,18,18)" d="M768.5,248.4 L779.3,248.4 L779.3,250 L768.5,250 Z"/>
<path fill="rgb(30,30,30)" d="M775.5,198.5 L784.8,198.5 L784.8,218.1 L814.7,218.1 L814.7,232.8 L800.2,232 L794,235.9 L787.8,237.4 L781.7,232.8 L777,226.6 L778.6,217.4 Z"/>
<path fill="rgb(42,42,42)" d="M780.1,225.1 L787.1,222.8 L789.4,218.9 L814.7,218.9 L814.7,225.1 L800.2,228.2 L794,231.3 L787.8,231.3 L781.7,229.7 Z"/>
<path fill="rgb(54,54,54)" d="M787.8,219.7 L794,218.9 L798.7,225.1 L794,228.2 L788.6,226.6 Z"/>
<path fill="rgb(66,66,66)" d="M793.3,218.6 L813.3,218.6 L803.3,221.2 L800.2,222 L798.7,225.1 L795.6,225.1 L794,222 Z"/>
<path fill="rgb(148,148,148)" d="M804.1,218.1 L814.7,218.1 L814.7,219.7 L804.1,219.7 Z"/>
</g>
<use href="#tx" transform="translate(655.2,205)"/>
</g>
<rect x="785" y="206.2" width="21.6" height="11.5" fill="#fff" fill-opacity="0.9"/>
<text x="787" y="213.6" font-size="10.6" textLength="19.3" lengthAdjust="spacingAndGlyphs">p22</text>
<rect x="655.6" y="205.6" width="151.8" height="113.8" fill="none" stroke="#000" stroke-width="1.25"/>
<g clip-path="url(#c15)">
<g filter="url(#cm)">
<rect x="805" y="195" width="172" height="135" fill="#000"/>
<path fill="rgb(18,18,18)" d="M842,274.5 L845.9,272.7 L876.8,273 L910.8,272.3 L932.4,272.7 L946.3,273.7 L974.7,274.5 L974.7,278.4 L954,277.6 L944.8,277.3 L937,277.6 L929.3,278.8 L923.1,281.5 L913.9,282.2 L907.7,279.1 L898.4,280.7 L893.8,282.2 L893.8,286.1 L887.6,286.9 L884.5,283 L879.9,283 L876.8,285.3 L878.3,290 L881.4,294.6 L879.9,300.8 L875.2,303.9 L869.1,303.1 L866,296.1 L866,288.4 L862.9,282.2 L859.8,279.1 L852.1,278.8 L845.9,278.8 L842,277.6 Z"/>
<path fill="rgb(18,18,18)" d="M915.4,209.6 L918.5,198.5 L974.7,198.5 L974.7,238.2 L960.2,238.2 L950.9,238.2 L944.8,237.4 L937,234.3 L932.4,228.2 L929.3,220.4 L923.1,212.7 L918.5,214.3 Z"/>
<path fill="rgb(18,18,18)" d="M818.1,212 L822,210.9 L825,212.7 L823.5,216.1 L819.6,216.1 Z"/>
<path fill="rgb(0,0,0)" d="M933.9,222 L937,219.7 L939.3,221.2 L937.8,225.9 L934.7,225.9 Z"/>
<path fill="rgb(30,30,30)" d="M855.2,276.1 L859,275.7 L859,277.9 L855.5,277.9 Z"/>
<path fill="rgb(30,30,30)" d="M875.2,281.5 L879.9,279.9 L883,276.1 L896.9,275.3 L907.7,276.4 L898.4,278.4 L887.6,279.1 L881.4,282.2 L876.8,283 Z"/>
<path fill="rgb(30,30,30)" d="M868.3,292.3 L872.2,290.7 L876.8,293 L877.6,297.7 L873.7,301.5 L869.1,299.2 Z"/>
<path fill="rgb(30,30,30)" d="M887.6,282.2 L891.5,281.9 L892.2,285.3 L888.4,285.6 Z"/>
<path fill="rgb(30,30,30)" d="M926.2,198.5 L944.8,198.5 L944.8,218.1 L974.7,218.1 L974.7,238.2 L950.9,238.2 L946.3,235.9 L943.2,228.2 L944,222.8 L938.6,214.3 L929.3,209.6 Z"/>
<path fill="rgb(42,42,42)" d="M869.8,293.8 L873.7,292.7 L876,296.1 L872.9,299.2 L870.3,297.7 Z"/>
<path fill="rgb(42,42,42)" d="M947.1,223.5 L952.5,220.4 L960.2,222 L961.7,228.2 L957.1,232 L949.4,232 Z"/>
<path fill="rgb(42,42,42)" d="M929.3,198.5 L941.7,198.5 L938.6,209.6 L932.4,208.1 Z"/>
<path fill="rgb(54,54,54)" d="M949.4,225.1 L954,222 L958.7,224.3 L957.1,228.9 L951.7,229.7 Z"/>
<path fill="rgb(66,66,66)" d="M956.3,218.6 L974.7,218.6 L974.7,220.1 L958.7,220.4 Z"/>
</g>
<use href="#tx" transform="translate(815,205)"/>
</g>
<rect x="944" y="206.2" width="21.6" height="11.5" fill="#fff" fill-opacity="0.9"/>
<text x="946" y="213.6" font-size="10.6" textLength="19.3" lengthAdjust="spacingAndGlyphs">p27</text>
<rect x="815.6" y="205.6" width="150.8" height="113.8" fill="none" stroke="#000" stroke-width="1.25"/>
<g clip-path="url(#c20)">
<g filter="url(#cm)">
<rect x="8" y="338" width="172" height="135" fill="#000"/>
<path fill="rgb(18,18,18)" d="M10.3,341.5 L62.8,341.5 L62.8,354.2 L59.7,358 L53.5,359.6 L48.9,356.5 L44.3,357.3 L41.2,362.7 L36.5,365.8 L31.9,363.4 L25.7,363.4 L21.9,368.1 L20.3,378.9 L10.3,380.4 Z"/>
<path fill="rgb(18,18,18)" d="M120,355.7 L126.1,351.1 L130.8,341.5 L177.7,341.5 L177.7,380.4 L163.2,380.4 L157,382 L147.8,380.4 L141.6,382 L136.9,377.3 L132.3,368.1 L127.7,363.4 L123,361.1 Z"/>
<path fill="rgb(30,30,30)" d="M11.8,341.5 L61.3,341.5 L61.3,354.2 L55.1,358 L48.9,354.2 L44.3,355.7 L40.4,361.9 L35,364.2 L30.4,361.1 L24.2,361.9 L11.8,358.8 Z"/>
<path fill="rgb(30,30,30)" d="M138.5,352.6 L147.8,341.5 L147.8,361.1 L177.7,361.1 L177.7,375.8 L163.2,377.3 L153.9,377.3 L144.7,374.3 L138.5,371.2 L140,365 L143.1,360.4 Z"/>
<path fill="rgb(42,42,42)" d="M21.1,341.5 L59.7,341.5 L58.9,353.4 L54.3,356.5 L48.9,352.6 L42.7,354.2 L39.6,360.4 L35,361.9 L30.4,358.8 L24.2,359.6 Z"/>
<path fill="rgb(42,42,42)" d="M141.6,368.1 L146.2,364.2 L150.8,361.9 L177.7,361.9 L177.7,371.2 L163.2,374.3 L153.9,375 L146.2,372.7 Z"/>
<path fill="rgb(54,54,54)" d="M143.1,368.9 L147.8,365 L150.8,362.7 L157,362.7 L157,371.2 L150.8,372.7 L146.2,371.9 Z"/>
<path fill="rgb(66,66,66)" d="M24.2,341.8 L29.6,341.8 L30.4,355.7 L28,359.6 L25,357.3 Z"/>
<path fill="rgb(66,66,66)" d="M35,355 L38.9,353.9 L40.4,358 L37.3,360 L34.7,358 Z"/>
<path fill="rgb(66,66,66)" d="M52,350 L55.1,350 L55.1,352 L52,352 Z"/>
<path fill="rgb(66,66,66)" d="M157,362.7 L176.3,362.2 L166.3,366.5 L161.7,369.6 L157,369.6 Z"/>
</g>
<use href="#tx" transform="translate(18,348)"/>
</g>
<rect x="147" y="349.2" width="21.6" height="11.5" fill="#fff" fill-opacity="0.9"/>
<text x="149" y="356.6" font-size="10.6" textLength="19.3" lengthAdjust="spacingAndGlyphs">p03</text>
<rect x="18.6" y="348.6" width="150.8" height="113.8" fill="none" stroke="#000" stroke-width="1.25"/>
<g clip-path="url(#c21)">
<g filter="url(#cm)">
<rect x="167" y="338" width="173" height="135" fill="#000"/>
<path fill="rgb(18,18,18)" d="M169.3,340.3 L336.7,340.3 L336.7,414.4 L322.2,414.4 L316,416 L311.4,414.4 L303.7,416 L297.5,419.1 L288.2,420.6 L279,420.6 L272.8,416.7 L268.1,417.5 L263.5,420.6 L258.9,423.7 L251.1,425.2 L243.4,425.2 L238.8,428.3 L234.2,426.8 L232.6,422.1 L229.5,419.8 L224.9,420.6 L221.8,417.5 L217.2,416 L212.5,411.3 L207.9,409.8 L201.7,405.2 L195.5,401.3 L186.3,400.5 L169.3,399.7 Z"/>
<path fill="rgb(18,18,18)" d="M262.7,425.2 L266.6,422.1 L268.9,423.7 L265.8,429.9 L263.2,430.6 Z"/>
<path fill="rgb(30,30,30)" d="M169.3,371.2 L186.3,375.8 L192.4,369.6 L190.9,366.5 L197.1,365 L204.8,366.5 L206.3,371.2 L201.7,375.8 L198.6,382 L201.7,388.2 L221.8,389.7 L241.9,390.5 L254.2,389.7 L263.5,386.6 L272.8,388.2 L277.4,392.8 L288.2,397.4 L292.9,400.5 L291.3,406.7 L300.6,409.8 L309.8,411.3 L316,412.9 L311.4,414.4 L300.6,416 L288.2,419.8 L279,419.8 L272.8,416 L263.5,416 L254.2,419.1 L245,420.6 L238.8,416 L231.1,414.4 L223.3,412.9 L215.6,411.3 L207.9,408.2 L200.2,402.1 L186.3,399.7 L169.3,399 Z"/>
<path fill="rgb(30,30,30)" d="M254.2,352.6 L263.5,354.2 L268.1,360.4 L269.7,368.1 L275.9,374.3 L285.1,371.2 L294.4,369.6 L300.6,374.3 L308.3,378.9 L308.3,361.9 L306.8,341.5 L269.7,341.5 L254.2,341.5 Z"/>
<path fill="rgb(18,18,18)" d="M254.2,355.7 L262,357.3 L266.6,363.4 L263.5,369.6 L257.3,371.2 L253.5,369.6 Z"/>
<path fill="rgb(30,30,30)" d="M223.3,371.2 L229.5,369.6 L237.2,368.9 L231.1,374.3 L224.9,377.3 Z"/>
<path fill="rgb(30,30,30)" d="M197.1,341.5 L204.8,341.5 L205.6,354.2 L201.7,356.5 L197.9,354.2 Z"/>
<path fill="rgb(30,30,30)" d="M309.8,361.9 L336.7,361.1 L336.7,371.2 L320.7,372.7 L319.9,377.3 L316,378.9 L309.8,378.9 Z"/>
<path fill="rgb(0,0,0)" d="M209.4,351.1 L215.6,341.8 L221.8,350.3 L221.8,363.4 L218.7,371.2 L214.1,375.8 L214.8,383.5 L207.9,386.6 L203.3,383.5 L204.8,375.8 L209.4,369.6 L214.1,361.9 L210.2,357.3 Z"/>
<path fill="rgb(0,0,0)" d="M184.7,357.3 L190.9,355.7 L195.5,358 L192.4,362.7 L186.3,365 L184.7,371.2 L183.2,363.4 Z"/>
<path fill="rgb(0,0,0)" d="M223.3,354.2 L228.7,355 L229.5,359.6 L226.4,363.4 L223.3,365 Z"/>
<path fill="rgb(0,0,0)" d="M275.9,375.8 L285.1,372.7 L294.4,373.5 L299,377.3 L303.7,378.9 L300.6,382.8 L291.3,384.3 L283.6,385.8 L275.9,382.8 L273.5,378.9 Z"/>
<path fill="rgb(0,0,0)" d="M320.7,372.7 L336.7,371.2 L336.7,383.5 L323.7,382 L319.9,377.3 Z"/>
<path fill="rgb(0,0,0)" d="M234.2,376.6 L238.8,375 L241.9,378.9 L235.7,380.4 Z"/>
<path fill="rgb(0,0,0)" d="M292.1,391.3 L295.9,389.7 L298.3,392.8 L292.9,393.6 Z"/>
<path fill="rgb(0,0,0)" d="M294.4,402.1 L300.6,401.3 L309.8,399.7 L316,402.1 L311.4,404.4 L300.6,403.6 Z"/>
<path fill="rgb(42,42,42)" d="M169.3,378.9 L186.3,382 L192.4,375.8 L198.6,378.9 L200.2,386.6 L207.9,391.3 L221.8,392 L241.9,392 L254.2,391.3 L263.5,388.9 L272.8,390.5 L277.4,395.1 L288.2,399 L292.1,402.1 L289.8,407.5 L285.1,409.8 L294.4,412.9 L300.6,413.7 L297.5,417.5 L288.2,419.1 L279,419.1 L274.3,415.2 L263.5,413.7 L254.2,416 L245,417.5 L238.8,412.9 L229.5,409.8 L223.3,406.7 L217.2,409.8 L207.9,406.7 L200.2,401.3 L186.3,399 L169.3,398.2 Z"/>
<path fill="rgb(42,42,42)" d="M275.9,341.5 L288.2,352.6 L295.9,358.8 L300.6,365 L308.3,366.5 L308.3,375.8 L300.6,372.7 L294.4,366.5 L285.1,365 L279,368.1 L275.9,363.4 L275.9,355.7 Z"/>
<path fill="rgb(42,42,42)" d="M312.9,363.4 L336.7,361.9 L336.7,368.1 L319.1,371.2 L312.9,369.6 Z"/>
<path fill="rgb(42,42,42)" d="M190.9,366.5 L197.1,365.8 L204,367.3 L204.8,371.2 L200.2,373.5 L194,372.7 Z"/>
<path fill="rgb(54,54,54)" d="M275.9,414.4 L285.1,412.9 L291.3,414.4 L288.2,418.3 L279,418.3 Z"/>
<path fill="rgb(54,54,54)" d="M223.3,405.2 L229.5,404.4 L238.8,408.2 L251.1,409.8 L263.5,409.8 L269.7,408.2 L263.5,412.9 L251.1,414.4 L241.9,412.9 L231.1,409.8 Z"/>
<path fill="rgb(54,54,54)" d="M297.5,363.4 L306.8,361.9 L308.3,369.6 L300.6,371.2 Z"/>
<path fill="rgb(66,66,66)" d="M180.1,389.7 L184.7,385.8 L192.4,384.3 L198.6,386.6 L202.5,392 L221.8,392.8 L241.9,392.8 L254.2,393.6 L269.7,392.8 L275.9,397.4 L285.1,399.7 L290.5,402.1 L285.1,405.2 L283.6,408.2 L269.7,409.8 L263.5,411.3 L254.2,409.8 L241.9,406.7 L231.1,404.4 L223.3,405.2 L217.2,409.8 L212.5,407.5 L207.9,404.4 L198.6,399.7 L195.5,395.9 L197.1,392 L192.4,388.9 L187.8,390.5 L184.7,394.3 L180.1,394.3 Z"/>
<path fill="rgb(66,66,66)" d="M286.7,341.5 L302.1,341.5 L300.6,354.2 L297.5,356.5 L291.3,352.6 Z"/>
<path fill="rgb(66,66,66)" d="M303.7,367.3 L312.9,366.5 L312.9,368.9 L304.4,369.6 Z"/>
<path fill="rgb(66,66,66)" d="M315.3,362.2 L320.7,362.2 L318.3,366.5 L315.3,365 Z"/>
<path fill="rgb(92,92,92)" d="M183.2,388.9 L192.4,385.8 L198.6,389.7 L197.1,392.8 L192.4,387.9 L186.3,391.3 Z"/>
<path fill="rgb(92,92,92)" d="M203.3,394.3 L221.8,393.6 L241.9,394.3 L254.2,395.1 L269.7,395.1 L277.4,399.7 L285.1,402.1 L275.9,405.9 L263.5,407.5 L251.1,405.9 L238.8,403.6 L228,402.1 L220.3,403.6 L214.1,405.2 L207.9,402.1 Z"/>
<path fill="rgb(116,116,116)" d="M223.3,395.9 L238.8,396.7 L246.5,398.2 L257.3,398.2 L268.1,397.4 L275.9,401.3 L269.7,404.4 L257.3,405.2 L246.5,403.6 L235.7,401.3 L226.4,399.7 Z"/>
<path fill="rgb(148,148,148)" d="M204.8,400.5 L208.7,398.7 L214.1,399.7 L214.8,402.8 L210.2,404.4 L205.6,402.8 Z"/>
</g>
<use href="#tx" transform="translate(177.2,348)"/>
</g>
<rect x="307" y="349.2" width="21.6" height="11.5" fill="#fff" fill-opacity="0.9"/>
<text x="309" y="356.6" font-size="10.6" textLength="19.3" lengthAdjust="spacingAndGlyphs">p08</text>
<rect x="177.6" y="348.6" width="151.8" height="113.8" fill="none" stroke="#000" stroke-width="1.25"/>
<g clip-path="url(#c22)">
<g filter="url(#cm)">
<rect x="326" y="338" width="173" height="135" fill="#000"/>
<path fill="rgb(18,18,18)" d="M329.3,341.5 L349.4,341.5 L350.1,355 L347,359.6 L342.4,360.4 L329.3,358 Z"/>
<path fill="rgb(18,18,18)" d="M440.5,341.5 L496.7,341.5 L496.7,387.4 L472.9,387.4 L471.4,391.3 L465.2,391.3 L460.6,386.6 L459,382 L460.6,377.3 L455.9,371.2 L455.2,361.9 L451.3,355.7 L445.1,351.9 Z"/>
<path fill="rgb(30,30,30)" d="M454.4,341.5 L466.8,341.5 L466.8,361.1 L496.7,361.1 L496.7,386.6 L472.9,386.6 L468.3,387.4 L463.7,385.1 L462.1,378.9 L459,372.7 L457.5,365 L459,357.3 Z"/>
<path fill="rgb(42,42,42)" d="M460.6,352.6 L466.8,352.6 L466.8,361.1 L496.7,361.1 L496.7,383.5 L482.2,385.1 L476,382.8 L469.8,381.2 L465.2,377.3 L462.1,369.6 L463.7,363.4 Z"/>
<path fill="rgb(54,54,54)" d="M469.1,363.4 L496.7,363.4 L496.7,378.9 L482.2,380.4 L476,378.9 L469.8,378.9 Z"/>
<path fill="rgb(66,66,66)" d="M469.8,365 L472.9,362.2 L496.7,361.9 L496.7,372.7 L483.7,374.6 L476,374 L470.6,371.2 Z"/>
<path fill="rgb(66,66,66)" d="M459.8,341.5 L465.2,341.5 L465.2,354.2 L460.6,355 Z"/>
<path fill="rgb(92,92,92)" d="M471.4,365.8 L475.3,362.7 L495.3,362.7 L495.3,371.2 L482.2,373 L476,372.4 Z"/>
<path fill="rgb(116,116,116)" d="M473.7,365 L476.8,362.7 L486.1,363.4 L486.1,369.6 L480.7,371.5 L476,369.6 Z"/>
<path fill="rgb(140,140,140)" d="M475.3,365 L478.3,362.7 L482.2,363.4 L484.5,367.3 L482.2,370.4 L478.3,369.3 Z"/>
</g>
<use href="#tx" transform="translate(336.2,348)"/>
</g>
<rect x="466" y="349.2" width="21.6" height="11.5" fill="#fff" fill-opacity="0.9"/>
<text x="468" y="356.6" font-size="10.6" textLength="19.3" lengthAdjust="spacingAndGlyphs">p13</text>
<rect x="336.6" y="348.6" width="151.8" height="113.8" fill="none" stroke="#000" stroke-width="1.25"/>
<g clip-path="url(#c23)">
<g filter="url(#cm)">
<rect x="486" y="338" width="173" height="135" fill="#000"/>
<path fill="rgb(18,18,18)" d="M488.3,360.4 L500.6,355.7 L503.7,351.9 L507.6,351.9 L509.1,357.3 L505.3,362.7 L500.6,366.5 L488.3,368.9 Z"/>
<path fill="rgb(18,18,18)" d="M516.1,379.7 L520.7,378.9 L522,382.8 L518.4,387.4 L516.4,385.1 Z"/>
<path fill="rgb(18,18,18)" d="M499.1,375.8 L501.4,375.8 L501.9,377.8 L499.4,377.8 Z"/>
<path fill="rgb(18,18,18)" d="M577.1,354.2 L582.5,351.1 L594.9,341.5 L655.7,341.5 L655.7,384.3 L641.2,384.3 L631.9,381.2 L622.7,376.6 L616.5,372.7 L613.4,366.5 L610.3,361.1 L604.1,358.8 L594.9,358.8 L585.6,360.4 L579.4,358 Z"/>
<path fill="rgb(18,18,18)" d="M618.8,385.1 L622.7,383.2 L629.6,383.8 L625.8,388.2 L621.9,390.5 L619.1,388.2 Z"/>
<path fill="rgb(30,30,30)" d="M614.2,341.5 L625.8,341.5 L625.8,361.1 L655.7,361.1 L655.7,378.9 L641.2,380.4 L631.9,377.3 L622.7,372.7 L618,368.1 L614.9,360.4 Z"/>
<path fill="rgb(30,30,30)" d="M503,354.2 L506,353.4 L506.8,357.3 L503.7,358.8 Z"/>
<path fill="rgb(42,42,42)" d="M617.3,350.3 L625.8,350.3 L625.8,361.1 L630.4,362.7 L644.3,363.4 L655.7,366.5 L645.8,372.7 L635,375 L627.3,372.7 L621.1,369.6 L618,361.9 Z"/>
<path fill="rgb(54,54,54)" d="M619.6,365.8 L623.4,365 L625,368.9 L621.1,369.6 Z"/>
<path fill="rgb(54,54,54)" d="M619.6,352.6 L625,352.6 L625,359.6 L620.3,358.8 Z"/>
<path fill="rgb(66,66,66)" d="M629.6,366.5 L631.9,362.2 L654.3,362.2 L642.7,365.8 L642.7,370.4 L635,371.9 L630.4,370.4 Z"/>
<path fill="rgb(92,92,92)" d="M631.9,365 L635,362.7 L641.2,362.7 L640.4,368.1 L635,369.6 Z"/>
<path fill="rgb(148,148,148)" d="M645.5,354.2 L655.7,354.2 L655.7,361.9 L645.5,361.9 Z"/>
</g>
<use href="#tx" transform="translate(496.2,348)"/>
</g>
<rect x="626" y="349.2" width="21.6" height="11.5" fill="#fff" fill-opacity="0.9"/>
<text x="628" y="356.6" font-size="10.6" textLength="19.3" lengthAdjust="spacingAndGlyphs">p18</text>
<rect x="496.6" y="348.6" width="151.8" height="113.8" fill="none" stroke="#000" stroke-width="1.25"/>
<g clip-path="url(#c24)">
<g filter="url(#cm)">
<rect x="645" y="338" width="173" height="135" fill="#000"/>
<path fill="rgb(18,18,18)" d="M647.3,340.3 L814.7,340.3 L814.7,416 L800.2,417.5 L794,416.7 L784.8,419.1 L775.5,420.6 L769.3,422.1 L766.2,425.2 L760,428.3 L757,431.4 L756.2,425.2 L761.6,420.6 L769.3,416 L753.9,414.4 L741.5,413.7 L732.2,416 L721.4,417.5 L719.9,412.9 L729.1,409.8 L721.4,409.8 L713.7,412.9 L711.4,409.8 L716.8,406.7 L721.4,402.1 L710.6,405.2 L704.4,405.2 L702.9,399 L699.8,395.9 L685.9,395.9 L673.5,389.7 L670.4,382 L672,375.8 L667.4,377.3 L665.8,375 L670.4,371.2 L667.4,365 L661.2,363.4 L647.3,365 Z"/>
<path fill="rgb(0,0,0)" d="M721.4,394.3 L729.1,388.2 L741.5,386.6 L753.9,387.4 L757.7,390.5 L753.9,395.9 L744.6,399 L735.3,402.1 L732.2,405.2 L724.5,404.4 L721.4,400.5 Z"/>
<path fill="rgb(30,30,30)" d="M670.4,363.4 L675.1,368.1 L678.2,374.3 L673.5,378.9 L675.1,386.6 L685.9,392.8 L699.8,394.3 L702.9,392.8 L716.8,392.8 L723,389.7 L729.1,385.8 L732.2,380.4 L741.5,377.3 L753.9,378.9 L761.6,382 L766.2,384.3 L761.6,389.7 L760,394.3 L766.2,395.9 L775.5,394.3 L790.9,394.3 L814.7,394.3 L814.7,340.3 L699.8,340.3 L699.8,357.3 L685.9,354.2 L684.3,341.8 L670.4,341.8 Z"/>
<path fill="rgb(18,18,18)" d="M701.3,372.7 L707.5,371.2 L715.2,377.3 L712.2,383.5 L706,385.1 L701.3,383.5 Z"/>
<path fill="rgb(18,18,18)" d="M709.1,357.3 L719.9,352.6 L729.1,354.2 L723,358.8 L713.7,361.9 Z"/>
<path fill="rgb(42,42,42)" d="M701.3,354.2 L709.1,357.3 L713.7,361.9 L723,361.9 L729.1,357.3 L730.7,352.6 L814.7,341.5 L814.7,394.3 L790.9,393.6 L778.6,392.8 L772.4,388.2 L766.2,386.6 L769.3,382 L772.4,378.9 L763.1,379.7 L753.9,378.1 L741.5,376.6 L732.2,371.2 L726.1,370.4 L719.9,372.7 L716.8,375.8 L721.4,377.3 L732.2,378.9 L727.6,385.1 L723,388.2 L716.8,389.7 L704.4,392.8 L701.3,392.8 L701.3,371.2 L707.5,368.1 L701.3,365 Z"/>
<path fill="rgb(18,18,18)" d="M702.9,372.7 L708.3,371.9 L714.5,377.3 L711.4,382.8 L706,384.3 L702.1,382.8 Z"/>
<path fill="rgb(42,42,42)" d="M673.5,380.4 L678.2,377.3 L685.9,378.9 L695.2,375.8 L699,378.9 L699,388.2 L685.9,391.3 L678.2,386.6 Z"/>
<path fill="rgb(42,42,42)" d="M684.3,350.3 L699.8,341.8 L699.8,357.3 L690.5,358.8 L685.9,355.7 Z"/>
<path fill="rgb(30,30,30)" d="M732.2,341.8 L778.6,341.8 L772.4,354.2 L763.1,355.7 L747.7,357.3 L735.3,355.7 Z"/>
<path fill="rgb(30,30,30)" d="M753.9,371.2 L763.1,368.1 L775.5,366.5 L778.6,369.6 L775.5,375.8 L763.1,377.3 L755.4,375.8 Z"/>
<path fill="rgb(54,54,54)" d="M732.2,368.1 L741.5,365 L753.9,361.9 L763.1,358.8 L772.4,357.3 L778.6,363.4 L775.5,368.1 L766.2,369.6 L757,371.2 L747.7,374.3 L738.4,374.3 L732.2,371.9 Z"/>
<path fill="rgb(54,54,54)" d="M718.3,373.5 L726.1,371.2 L732.2,372.7 L735.3,375.8 L727.6,377.3 L721.4,376.6 Z"/>
<path fill="rgb(54,54,54)" d="M678.2,382 L684.3,380.4 L688.2,383.5 L685.9,386.6 L680.5,385.8 Z"/>
<path fill="rgb(54,54,54)" d="M787.8,363.4 L814.7,363.4 L814.7,388.2 L792.5,386.6 L787.8,378.9 Z"/>
<path fill="rgb(54,54,54)" d="M766.2,386.6 L778.6,383.5 L787.8,386.6 L790.9,394.3 L778.6,393.6 L769.3,390.5 Z"/>
<path fill="rgb(66,66,66)" d="M733.8,404.4 L741.5,401.3 L753.9,399.7 L763.1,396.7 L775.5,394.3 L783.2,397.4 L790.9,399 L797.1,397.4 L798.7,401.3 L794,406.7 L790.9,411.3 L784.8,414.4 L781.7,418.3 L778.6,416 L769.3,414.4 L760,415.2 L753.9,413.7 L741.5,412.9 L733.8,410.6 L736.9,408.2 Z"/>
<path fill="rgb(66,66,66)" d="M660.4,351.1 L664.3,341.5 L670.4,341.5 L671.2,351.9 L665.8,355.7 L662,357.3 Z"/>
<path fill="rgb(66,66,66)" d="M672,355 L675.1,350.3 L682.8,341.5 L683.6,357.3 L690.5,361.1 L698.3,361.9 L699.8,365 L696.7,369.6 L694.4,375.8 L691.3,375 L688.2,368.1 L682.8,362.7 L675.1,362.7 Z"/>
<path fill="rgb(66,66,66)" d="M778.6,355.7 L783.2,341.8 L784.8,341.5 L784.8,357.3 L780.9,360.4 Z"/>
<path fill="rgb(66,66,66)" d="M787.8,366.5 L792.5,361.9 L814.7,361.9 L814.7,371.2 L800.2,374.3 L794,373.5 Z"/>
<path fill="rgb(92,92,92)" d="M736.9,405.9 L744.6,402.1 L757,400.5 L769.3,396.7 L778.6,397.4 L787.8,401.3 L792.5,405.2 L787.8,409.8 L783.2,415.2 L778.6,413.7 L769.3,412.9 L757,412.1 L744.6,411.3 L738.4,409 Z"/>
<path fill="rgb(92,92,92)" d="M673.5,354.2 L678.2,351.1 L682,354.2 L680.5,359.6 L675.9,360.4 Z"/>
<path fill="rgb(92,92,92)" d="M790.9,365 L814.7,363.4 L814.7,369.6 L798.7,371.9 L792.5,369.6 Z"/>
<path fill="rgb(148,148,148)" d="M741.5,405.9 L747.7,403.6 L760,402.1 L767.8,402.8 L772.4,405.2 L778.6,407.5 L783.2,409.8 L783.2,414.4 L780.1,416 L777,412.1 L769.3,412.1 L763.1,410.6 L753.9,410.6 L750.8,408.2 L743,408.2 Z"/>
<path fill="rgb(196,196,196)" d="M749.2,404.4 L760,402.8 L763.1,405.2 L755.4,405.9 Z"/>
<path fill="rgb(196,196,196)" d="M763.1,409 L769.3,406.7 L775.5,407.5 L776.3,410.6 L770.9,412.9 L766.2,411.3 Z"/>
<path fill="rgb(148,148,148)" d="M797.1,361.9 L814.7,361.9 L814.7,365 L801.7,365.8 L797.9,364.2 Z"/>
<path fill="rgb(196,196,196)" d="M800.2,361.3 L814.7,361.3 L814.7,362.8 L800.2,362.8 Z"/>
</g>
<use href="#tx" transform="translate(655.2,348)"/>
</g>
<rect x="785" y="349.2" width="21.6" height="11.5" fill="#fff" fill-opacity="0.9"/>
<text x="787" y="356.6" font-size="10.6" textLength="19.3" lengthAdjust="spacingAndGlyphs">p23</text>
<rect x="655.6" y="348.6" width="151.8" height="113.8" fill="none" stroke="#000" stroke-width="1.25"/>
<g clip-path="url(#c25)">
<g filter="url(#cm)">
<rect x="805" y="338" width="172" height="135" fill="#000"/>
<path fill="rgb(18,18,18)" d="M807.3,340.3 L974.7,340.3 L974.7,409.8 L960.2,409 L954,412.9 L949.4,417.5 L943.2,418.3 L932.4,417.5 L923.1,419.8 L907.7,420.6 L900,422.1 L898.4,428.3 L892.2,431.4 L887.6,434.5 L883,439.1 L873.7,440.7 L872.2,434.5 L873.7,429.9 L867.5,425.2 L861.3,420.6 L858.3,418.3 L852.1,416 L845.9,419.1 L841.3,416 L835.1,409.8 L827.4,406.7 L821.2,408.2 L807.3,411.3 Z"/>
<path fill="rgb(30,30,30)" d="M822.7,341.5 L858.3,341.5 L859.8,363.4 L859.8,375.8 L867.5,378.9 L876.8,375.8 L881.4,378.9 L884.5,388.2 L895.3,391.3 L904.6,394.3 L913.9,399 L923.1,405.2 L932.4,409.8 L938.6,412.9 L932.4,416 L923.1,414.4 L907.7,416 L898.4,416 L892.2,409.8 L876.8,399 L859.8,395.9 L845.9,394.3 L830.4,392.8 L825.8,388.2 L824.3,378.9 L827.4,371.2 L824.3,363.4 L821.2,355.7 Z"/>
<path fill="rgb(30,30,30)" d="M890.7,341.5 L907.7,341.5 L898.4,355.7 L895.3,361.9 L901.5,363.4 L907.7,369.6 L901.5,374.3 L892.2,372.7 L890.7,366.5 Z"/>
<path fill="rgb(30,30,30)" d="M883,383.5 L889.1,378.9 L895.3,382 L907.7,383.5 L920,385.1 L932.4,385.1 L947.8,383.5 L949.4,388.2 L938.6,387.4 L923.1,386.6 L913.9,388.2 L907.7,394.3 L901.5,397.4 L892.2,392.8 L884.5,389.7 Z"/>
<path fill="rgb(30,30,30)" d="M917,400.5 L926.2,399 L938.6,401.3 L950.9,402.1 L954,409.8 L947.8,414.4 L938.6,411.3 L929.3,408.2 L921.6,405.2 Z"/>
<path fill="rgb(18,18,18)" d="M861.3,374.3 L870.6,372.7 L879.9,375.8 L883,383.5 L879.9,392.8 L867.5,394.3 L861.3,391.3 Z"/>
<path fill="rgb(0,0,0)" d="M838.2,361.9 L842.8,358 L852.1,357.3 L855.2,360.4 L850.5,363.4 L845.9,368.1 L839.7,368.1 Z"/>
<path fill="rgb(0,0,0)" d="M842.8,374.3 L847.4,371.2 L853.6,375.8 L858.3,382 L859,388.2 L853.6,391.3 L847.4,385.1 L843.6,380.4 Z"/>
<path fill="rgb(0,0,0)" d="M917,390.5 L923.1,388.5 L938.6,388.9 L950.9,390.5 L950.9,397.4 L938.6,396.7 L926.2,394.3 L920,393.6 Z"/>
<path fill="rgb(0,0,0)" d="M951.7,388.9 L974.7,388.2 L974.7,397.4 L952.5,397.4 Z"/>
<path fill="rgb(0,0,0)" d="M808.8,372.7 L821.2,371.9 L822.7,375.8 L818.1,378.1 Z"/>
<path fill="rgb(0,0,0)" d="M879.9,365 L884.5,363.4 L885.3,367.3 L880.7,369.6 Z"/>
<path fill="rgb(0,0,0)" d="M872.2,382.8 L876.8,381.7 L878.3,385.1 L872.9,385.8 Z"/>
<path fill="rgb(0,0,0)" d="M861.3,386.6 L869.1,387.4 L873.7,392 L867.5,391.3 L861.3,389.7 Z"/>
<path fill="rgb(0,0,0)" d="M818.9,389.7 L822.7,388.9 L822.7,399 L818.9,398.2 Z"/>
<path fill="rgb(0,0,0)" d="M907.7,416 L913.9,414.7 L920,416 L913.9,417.5 Z"/>
<path fill="rgb(42,42,42)" d="M822.7,351.1 L830.4,341.8 L835.1,354.2 L830.4,360.4 L833.5,368.1 L830.4,372.7 L836.6,377.3 L841.3,383.5 L845.9,389.7 L859.8,392.8 L859.8,395.9 L830.4,394.3 L825.8,386.6 L825,377.3 L827.4,369.6 L823.5,360.4 Z"/>
<path fill="rgb(42,42,42)" d="M849.8,365 L855.2,362.7 L864.4,362.7 L870.6,365 L871.4,369.6 L866,373.5 L858.3,373.5 L852.1,371.2 Z"/>
<path fill="rgb(42,42,42)" d="M892.2,361.9 L898.4,361.1 L904.6,365 L903,371.2 L896.9,372.7 L892.2,369.6 Z"/>
<path fill="rgb(42,42,42)" d="M884.5,386.6 L892.2,385.1 L901.5,388.2 L907.7,392.8 L901.5,395.9 L892.2,392.8 Z"/>
<path fill="rgb(42,42,42)" d="M883,400.5 L895.3,403.6 L904.6,406.7 L917,409.8 L923.1,412.9 L913.9,413.7 L901.5,411.3 L892.2,409 Z"/>
<path fill="rgb(54,54,54)" d="M854.4,365.8 L859.8,364.2 L867.5,365 L869.1,368.9 L864.4,371.9 L858.3,371.2 Z"/>
<path fill="rgb(54,54,54)" d="M828.1,375 L833.5,375.8 L838.2,380.4 L835.1,383.5 L830.4,381.2 Z"/>
<path fill="rgb(54,54,54)" d="M824.3,354.2 L828.9,352.6 L831.2,356.5 L828.1,359.6 L825,358 Z"/>
<path fill="rgb(54,54,54)" d="M958.7,369.6 L974.7,368.1 L974.7,378.9 L960.2,377.3 Z"/>
<path fill="rgb(54,54,54)" d="M873.7,428.3 L883,431.4 L887.6,429.9 L886.1,432.2 L879.9,433 Z"/>
<path fill="rgb(66,66,66)" d="M896.1,360.4 L901.5,355.7 L910.8,351.1 L923.1,341.5 L944.8,341.5 L944.8,361.9 L974.7,361.9 L974.7,368.1 L961.7,372.7 L960.2,378.1 L950.9,378.9 L946.3,381.2 L938.6,381.2 L929.3,382.8 L920,380.4 L907.7,378.1 L898.4,378.9 L892.2,383.5 L888.4,385.8 L887.6,381.2 L890.7,377.3 L898.4,375.8 L907.7,375 L907.7,368.1 L904.6,362.7 L900,361.1 Z"/>
<path fill="rgb(66,66,66)" d="M825,392.8 L830.4,389.7 L835.1,388.2 L839.7,392.8 L853.6,395.9 L867.5,397.4 L876.8,400.5 L886.1,405.9 L895.3,406.7 L901.5,409.8 L907.7,410.6 L917,411.3 L913.9,413.7 L901.5,413.7 L899.2,417.5 L892.2,420.6 L893.8,425.2 L889.1,429.9 L883,430.6 L876.8,426.8 L869.1,421.4 L864.4,419.1 L859.8,417.5 L858.3,412.9 L845.9,409.8 L836.6,403.6 L830.4,399 L825.8,395.9 Z"/>
<path fill="rgb(92,92,92)" d="M901.5,358.8 L910.8,352.6 L923.1,349.9 L944.8,349.9 L944.8,361.9 L974.7,362.7 L963.3,371.2 L958.7,376.6 L949.4,376.6 L946.3,378.1 L937,376.6 L929.3,378.1 L921.6,376.6 L913.9,372.7 L910.8,365 L906.1,361.1 Z"/>
<path fill="rgb(92,92,92)" d="M827.4,394.3 L832,392 L839.7,394.3 L853.6,397.1 L867.5,398.7 L876.8,402.1 L886.1,407.5 L895.3,409.8 L898.4,414.4 L892.2,419.1 L892.2,424.5 L887.6,428.3 L883,428.3 L876.8,424.5 L869.1,419.8 L862.9,416.7 L859.8,413.7 L850.5,409.8 L839.7,403.6 L832,398.2 Z"/>
<path fill="rgb(116,116,116)" d="M913.9,357.3 L923.1,352.6 L935.5,352.6 L943.2,357.3 L944.8,369.6 L938.6,375.8 L932.4,371.2 L923.1,371.2 L915.4,366.5 Z"/>
<path fill="rgb(116,116,116)" d="M947.8,362.7 L974.7,362.7 L963.3,369.6 L954,371.2 L947.8,368.1 Z"/>
<path fill="rgb(148,148,148)" d="M830.4,395.9 L839.7,395.9 L853.6,398.2 L867.5,399.7 L876.8,403.6 L884.5,408.2 L887.6,412.1 L883,416 L876.8,419.1 L869.1,418.3 L862.9,414.4 L859.8,410.6 L850.5,407.5 L839.7,402.1 Z"/>
<path fill="rgb(148,148,148)" d="M881.4,423.7 L886.1,422.9 L886.8,425.2 L883,426 Z"/>
<path fill="rgb(148,148,148)" d="M920.8,360.4 L924.7,358.8 L927.8,361.1 L924.7,363.1 L921.6,362.7 Z"/>
<path fill="rgb(148,148,148)" d="M948.6,363.4 L960.2,362.7 L958.7,367.3 L952.5,368.9 L948.6,367.3 Z"/>
<path fill="rgb(196,196,196)" d="M844.3,401.3 L850.5,399.7 L859.8,402.1 L862.9,405.2 L858.3,407.5 L850.5,405.2 Z"/>
<path fill="rgb(196,196,196)" d="M864.4,409.8 L870.6,404.4 L876.8,405.9 L878.3,409.8 L873.7,414.4 L867.5,416.7 L864.4,414.4 Z"/>
<path fill="rgb(204,204,204)" d="M867.5,412.1 L871.8,408.6 L874.9,409.2 L874.2,412 L870.3,414.4 L867.8,414.4 Z"/>
<path fill="rgb(204,204,204)" d="M848.2,402.4 L852.1,401.9 L853.6,403.5 L850.2,403.9 Z"/>
<path fill="rgb(172,172,172)" d="M950.9,363.4 L957.1,363.1 L956.3,366.2 L952.5,366.8 Z"/>
</g>
<use href="#tx" transform="translate(815,348)"/>
</g>
<rect x="944" y="349.2" width="21.6" height="11.5" fill="#fff" fill-opacity="0.9"/>
<text x="946" y="356.6" font-size="10.6" textLength="19.3" lengthAdjust="spacingAndGlyphs">p28</text>
<rect x="815.6" y="348.6" width="150.8" height="113.8" fill="none" stroke="#000" stroke-width="1.25"/>
<g clip-path="url(#c30)">
<g filter="url(#cm)">
<rect x="8" y="482" width="172" height="134" fill="#000"/>
<path fill="rgb(18,18,18)" d="M10.3,484.3 L177.7,484.3 L177.7,541.4 L163.2,539.9 L153.9,541.4 L147.8,543 L138.5,544.5 L126.1,543.7 L116.9,539.9 L110.7,539.9 L104.5,544.5 L101.4,547.6 L93.7,549.9 L86,552.2 L79.8,553.8 L75.2,552.2 L69,551.5 L58.2,553.8 L52,554.6 L45.8,551.5 L36.5,552.2 L31.9,548.4 L27.3,544.5 L10.3,546.8 Z"/>
<path fill="rgb(30,30,30)" d="M10.3,484.3 L177.7,484.3 L177.7,538.3 L157,539.9 L147.8,541.4 L138.5,543 L129.2,542.2 L123,538.3 L116.9,536.8 L110.7,538.3 L104.5,543 L99.9,546.1 L92.1,548.4 L84.4,550.7 L79.8,552.2 L75.2,550.7 L69,549.9 L58.2,552.2 L52,552.2 L45.8,549.2 L36.5,549.9 L31.9,546.1 L10.3,544.5 Z"/>
<path fill="rgb(18,18,18)" d="M116.9,530.6 L126.1,528.3 L141.6,527.5 L152.4,528.3 L152.4,538.3 L141.6,538.3 L129.2,536.8 L118.4,535.3 Z"/>
<path fill="rgb(0,0,0)" d="M129.2,531.4 L141.6,529.8 L152.4,530.6 L152.4,535.3 L141.6,536 L132.3,535.3 Z"/>
<path fill="rgb(0,0,0)" d="M160.9,523.7 L164.7,522.1 L166.3,526.8 L162.4,529.1 Z"/>
<path fill="rgb(18,18,18)" d="M153.9,515.2 L177.7,513.6 L177.7,530.6 L155.5,529.8 Z"/>
<path fill="rgb(42,42,42)" d="M10.3,484.3 L147.8,484.3 L149.3,507.4 L149.3,522.9 L135.4,522.1 L126.1,522.9 L120,527.5 L113.8,532.2 L107.6,536.8 L101.4,541.4 L98.3,545.3 L90.6,546.8 L84.4,549.2 L79.8,550.7 L75.2,549.2 L69,548.4 L58.2,550.4 L52,550.4 L45.8,547.3 L36.5,547.9 L32.7,544.5 L10.3,543 Z"/>
<path fill="rgb(42,42,42)" d="M126.1,541.4 L135.4,540.7 L141.6,542.2 L135.4,543.7 L127.7,543.3 Z"/>
<path fill="rgb(30,30,30)" d="M132.3,496.6 L136.9,495.1 L136.9,505.9 L133.1,507.4 Z"/>
<path fill="rgb(30,30,30)" d="M113.8,507.4 L123,504.4 L138.5,507.4 L144.7,512.1 L141.6,519.8 L126.1,518.3 L120,515.2 Z"/>
<path fill="rgb(30,30,30)" d="M141.6,502.8 L147.8,502.8 L147.8,507.4 L142.3,507.4 Z"/>
<path fill="rgb(54,54,54)" d="M64.3,496.6 L82.9,495.9 L93.7,495.9 L93.7,515.2 L104.5,519.8 L113.8,522.9 L116.9,526.8 L110.7,532.2 L104.5,536.8 L98.3,538.3 L92.1,535.3 L86,530.6 L90.6,522.9 L86,516.7 L78.2,512.1 L70.5,507.4 L65.9,502.8 Z"/>
<path fill="rgb(54,54,54)" d="M95.2,505.9 L101.4,502.8 L106,504.4 L101.4,509 L96.8,509.8 Z"/>
<path fill="rgb(42,42,42)" d="M150.1,507.4 L177.7,506.7 L177.7,513.6 L157,515.2 L150.8,515.2 Z"/>
<path fill="rgb(66,66,66)" d="M10.3,504.4 L27.3,501.3 L36.5,499.7 L48.9,497.4 L62.8,495.9 L78.2,495.9 L70.5,499 L66.7,502.8 L70.5,507.4 L78.2,512.9 L86,517.5 L89.8,522.9 L84.4,530.6 L92.1,535.3 L98.3,538.3 L99.9,542.2 L95.2,544.5 L87.5,546.8 L81.3,551.5 L78.2,552.2 L73.6,549.9 L69,547.6 L58.2,549.9 L52,549.2 L45.8,546.1 L36.5,543 L27.3,541.4 L10.3,545.3 Z"/>
<path fill="rgb(66,66,66)" d="M150.8,510.5 L155.5,509 L159.3,510.5 L158.6,513.6 L152.4,514.4 Z"/>
<path fill="rgb(84,84,84)" d="M10.3,505.9 L27.3,502.8 L36.5,501.3 L48.9,499.7 L61.3,497.4 L64.3,501.3 L64.3,507.4 L72.1,512.1 L82.9,518.3 L86,522.9 L81.3,530.6 L89.1,536 L96.8,539.9 L95.2,543.7 L87.5,545.3 L81.3,549.9 L73.6,548.4 L69,546.1 L58.2,547.6 L48.9,544.5 L36.5,541.4 L27.3,539.9 L10.3,541.4 Z"/>
<path fill="rgb(108,108,108)" d="M10.3,507.4 L27.3,504.4 L36.5,503.6 L48.9,501.3 L55.1,502.8 L58.2,507.4 L56.6,512.1 L62.8,515.2 L69,518.3 L76.7,522.9 L78.2,530.6 L75.2,536.8 L79.8,539.9 L86,539.9 L84.4,544.5 L76.7,543 L69,543 L58.2,543.7 L48.9,541.4 L36.5,538.3 L27.3,538.3 L10.3,539.9 Z"/>
<path fill="rgb(124,124,124)" d="M21.1,509 L25.7,507.4 L27.3,512.1 L22.6,513.6 Z"/>
<path fill="rgb(124,124,124)" d="M33.4,512.1 L42.7,510.5 L52,515.2 L56.6,521.3 L61.3,527.5 L64.3,532.2 L62.8,538.3 L48.9,538.3 L42.7,530.6 L36.5,522.9 L32.7,516.7 Z"/>
<path fill="rgb(124,124,124)" d="M79.8,539.9 L84.4,539.1 L86,543 L81.3,543.7 Z"/>
<path fill="rgb(148,148,148)" d="M38.1,514.4 L41.2,513.6 L51.2,520.6 L50.4,522.9 L45.8,520.6 Z"/>
<path fill="rgb(148,148,148)" d="M52,526.8 L56.6,526 L64.3,528.3 L64.3,531.4 L59.7,532.9 L53.5,531.4 Z"/>
<path fill="rgb(148,148,148)" d="M10.3,530.6 L24.2,529.8 L33.4,529.1 L41.2,529.8 L41.2,533.7 L36.5,535.3 L30.4,538.3 L24.2,539.9 L10.3,539.9 Z"/>
<path fill="rgb(148,148,148)" d="M48.1,539.9 L50.4,539.1 L50.7,541.4 L48.6,541.4 Z"/>
<path fill="rgb(172,172,172)" d="M10.3,532.2 L24.2,531.4 L31.9,531.4 L35,532.9 L30.4,536 L24.2,537.6 L10.3,538.3 Z"/>
<path fill="rgb(196,196,196)" d="M23.4,533.7 L27.3,532.5 L30.4,534 L27.3,536.5 L24.2,536 Z"/>
</g>
<use href="#tx" transform="translate(18,491.1)"/>
</g>
<rect x="147" y="493.2" width="21.6" height="11.5" fill="#fff" fill-opacity="0.9"/>
<text x="149" y="500.6" font-size="10.6" textLength="19.3" lengthAdjust="spacingAndGlyphs">p04</text>
<rect x="18.6" y="492.6" width="150.8" height="112.8" fill="none" stroke="#000" stroke-width="1.25"/>
<g clip-path="url(#c31)">
<g filter="url(#cm)">
<rect x="167" y="482" width="173" height="134" fill="#000"/>
<path fill="rgb(18,18,18)" d="M169.3,484.3 L221.8,484.3 L221.8,499.7 L217.2,498.2 L211,499 L204.8,504.4 L198.6,506.7 L189.4,507.4 L183.2,509 L180.9,515.2 L183.2,521.3 L180.9,526 L169.3,527.5 Z"/>
<path fill="rgb(18,18,18)" d="M223.3,496.6 L230.3,496.6 L234.2,501.3 L233.4,506.7 L223.3,506.7 Z"/>
<path fill="rgb(18,18,18)" d="M254.2,484.3 L336.7,484.3 L336.7,525.2 L322.2,526 L312.9,525.2 L309.8,528.3 L300.6,532.2 L294.4,529.8 L291.3,522.9 L292.9,519.8 L289.8,512.1 L285.1,507.4 L275.9,506.7 L269.7,511.3 L263.5,510.5 L258.9,505.9 L255.8,498.2 Z"/>
<path fill="rgb(30,30,30)" d="M169.3,484.3 L220.3,484.3 L214.1,496.6 L204.8,500.5 L198.6,504.4 L186.3,505.1 L181.6,502.8 L169.3,504.4 Z"/>
<path fill="rgb(30,30,30)" d="M260.4,484.3 L336.7,484.3 L336.7,521.3 L316,522.9 L306.8,519.8 L297.5,516.7 L292.9,509 L285.1,505.1 L275.9,504.4 L269.7,507.4 L263.5,505.9 L260.4,499.7 Z"/>
<path fill="rgb(42,42,42)" d="M181.6,485.8 L187.8,485 L190.9,496.6 L186.3,499.7 L182.4,498.2 Z"/>
<path fill="rgb(42,42,42)" d="M265,495.1 L336.7,484.3 L336.7,518.3 L316,519 L306.8,516.7 L299,513.6 L295.9,507.4 L288.2,504.4 L275.9,502.8 L269.7,505.1 L265.8,501.3 Z"/>
<path fill="rgb(54,54,54)" d="M268.1,496.6 L282,485.8 L336.7,484.3 L336.7,515.2 L316,515.9 L306.8,514.4 L300.6,510.5 L299,505.9 L291.3,502.8 L275.9,501.3 L269.7,502 Z"/>
<path fill="rgb(66,66,66)" d="M271.2,499.7 L275.9,498.2 L282,485.8 L306.8,485 L306.8,505.1 L336.7,505.1 L322.2,510.5 L316,515.2 L309.8,515.2 L305.2,512.1 L303.7,506.7 L297.5,502 L288.2,501.3 L283.6,502.8 L275.9,501.6 L272,502 Z"/>
<path fill="rgb(92,92,92)" d="M279,497.4 L285.1,493.9 L306.8,485.5 L308.3,507.4 L322.2,506.7 L316,513.6 L311.4,513.6 L307.5,509 L300.6,501.3 L291.3,499 L283.6,499.7 Z"/>
<path fill="rgb(116,116,116)" d="M300.6,485.8 L306.8,485.8 L309.8,506.7 L320.7,506.7 L316,511.3 L311.4,511.3 L308.3,505.9 L303.7,499.7 Z"/>
<path fill="rgb(148,148,148)" d="M302.1,485.8 L306.8,485.8 L306.8,501.3 L302.9,498.2 Z"/>
<path fill="rgb(148,148,148)" d="M310.6,505.9 L321.4,505.9 L316.8,509.8 L312.9,509.8 Z"/>
<path fill="rgb(196,196,196)" d="M326.5,498.2 L336.7,498.2 L336.7,505.9 L326.5,505.9 Z"/>
</g>
<use href="#tx" transform="translate(177.2,491.1)"/>
</g>
<rect x="307" y="493.2" width="21.6" height="11.5" fill="#fff" fill-opacity="0.9"/>
<text x="309" y="500.6" font-size="10.6" textLength="19.3" lengthAdjust="spacingAndGlyphs">p09</text>
<rect x="177.6" y="492.6" width="151.8" height="112.8" fill="none" stroke="#000" stroke-width="1.25"/>
<g clip-path="url(#c32)">
<g filter="url(#cm)">
<rect x="326" y="482" width="173" height="134" fill="#000"/>
<path fill="rgb(18,18,18)" d="M329.3,484.3 L381.8,484.3 L374.1,495.9 L366.3,495.1 L361.7,499.7 L358.6,503.6 L352.4,504.4 L344.7,505.9 L340.1,505.1 L329.3,509 Z"/>
<path fill="rgb(18,18,18)" d="M360.2,547.6 L364.8,546.1 L371,546.8 L374.8,551.5 L371.8,554.6 L364.8,553.8 L360.9,551.5 Z"/>
<path fill="rgb(18,18,18)" d="M414.2,496.6 L423.5,496.3 L425,499.7 L415.8,500.5 Z"/>
<path fill="rgb(18,18,18)" d="M383.3,538.3 L389.5,534.5 L395.7,530.6 L405,526.8 L417.3,525.2 L423.5,526 L429.7,529.1 L435.9,526.8 L445.1,526 L449.8,528.3 L454.4,526.8 L463.7,526 L471.4,527.5 L472.2,538.3 L468.3,543 L460.6,546.1 L454.4,546.1 L448.2,549.2 L442,553 L432.8,553.8 L423.5,553.8 L417.3,556.9 L409.6,558.4 L401.9,560 L394.2,558.4 L390.3,560.7 L387.2,558.4 L389.5,553.8 L386.4,549.2 L384.9,543 Z"/>
<path fill="rgb(18,18,18)" d="M435.9,484.3 L496.7,484.3 L496.7,529.8 L472.9,529.8 L469.8,524.4 L460.6,521.3 L451.3,520.6 L445.1,516.7 L439,515.2 L435.9,510.5 L439,505.9 L448.2,502.8 L445.1,498.2 L439,496.6 Z"/>
<path fill="rgb(18,18,18)" d="M473.7,532.2 L479.1,531.4 L477.6,536 L473.7,537.6 Z"/>
<path fill="rgb(0,0,0)" d="M452.9,528.3 L456.7,526.8 L459.8,530.6 L456.7,532.9 Z"/>
<path fill="rgb(30,30,30)" d="M386.4,539.9 L392.6,535.3 L401.9,529.8 L417.3,527.2 L423.5,528.3 L429.7,530.6 L439,528.3 L448.2,529.1 L454.4,533.7 L459,537.6 L454.4,543 L445.1,547.6 L435.9,550.7 L423.5,551.5 L414.2,555.3 L405,557.7 L395.7,556.1 L390.3,553 L387.2,546.1 Z"/>
<path fill="rgb(30,30,30)" d="M442,509 L448.2,505.9 L454.4,499.7 L454.4,484.3 L496.7,484.3 L496.7,529.1 L472.9,529.1 L469.8,522.9 L460.6,519.8 L451.3,516.7 L445.1,513.6 Z"/>
<path fill="rgb(30,30,30)" d="M341.6,496.6 L346.3,494.3 L348.6,498.2 L345.5,502 L342.4,500.5 Z"/>
<path fill="rgb(30,30,30)" d="M362.5,549.2 L369.4,548.4 L371.8,551.5 L364.8,552.2 Z"/>
<path fill="rgb(42,42,42)" d="M388,541.4 L395.7,535.3 L405,530.6 L417.3,528.3 L423.5,529.8 L432.8,530.6 L445.1,529.8 L451.3,533.7 L455.9,537.6 L451.3,542.2 L442,546.1 L429.7,549.2 L420.4,550.7 L411.1,553.8 L403.4,555.3 L395.7,553.8 L391.1,550.7 L388.7,546.1 Z"/>
<path fill="rgb(42,42,42)" d="M448.2,510.5 L454.4,507.4 L459,501.3 L459,484.3 L496.7,484.3 L496.7,526 L482.2,526 L472.9,522.9 L463.7,518.3 L454.4,515.2 Z"/>
<path fill="rgb(54,54,54)" d="M389.5,543 L398.8,536 L408.1,531.4 L417.3,529.4 L429.7,531.9 L445.1,531.4 L451.3,536 L448.2,541.4 L439,544.5 L426.6,547.6 L417.3,551.5 L409.6,553 L403.4,551.5 L398.8,552.2 L392.6,551.5 L390.3,547.6 Z"/>
<path fill="rgb(54,54,54)" d="M457.5,509 L460.6,499.7 L466.8,499.7 L468.3,505.9 L496.7,505.9 L496.7,522.9 L479.1,522.1 L469.8,519 L460.6,516.7 Z"/>
<path fill="rgb(66,66,66)" d="M389.5,545.3 L394.2,540.7 L401.9,535.3 L411.1,531.4 L420.4,529.8 L429.7,532.2 L443.6,531.4 L449.8,535.3 L452.1,539.1 L445.1,541.4 L435.9,542.2 L426.6,543.7 L417.3,541.4 L409.6,542.2 L403.4,544.5 L400.3,549.9 L395.7,551.9 L391.1,550.7 Z"/>
<path fill="rgb(66,66,66)" d="M457.5,510.5 L468.3,507.4 L469.8,505.9 L496.7,505.6 L482.2,512.1 L480.7,517.5 L472.9,519.8 L468.3,517.5 L459,515.2 Z"/>
<path fill="rgb(66,66,66)" d="M461.3,485.8 L466,485.8 L466,498.2 L461.8,498.2 Z"/>
<path fill="rgb(84,84,84)" d="M390.3,546.8 L394.9,543 L401.9,537.6 L411.1,532.9 L420.4,531.4 L429.7,533.4 L442,532.5 L448.2,536 L449.8,539.1 L443.6,540.2 L435.9,541.1 L426.6,542.2 L417.3,539.9 L409.6,540.7 L401.9,543 L398.8,548.4 L394.9,550.7 L391.4,549.5 Z"/>
<path fill="rgb(100,100,100)" d="M415.8,536.8 L420.4,533.7 L429.7,534.5 L442,533.4 L446.7,536.8 L442,539.1 L432.8,540.2 L423.5,541.4 L417.3,539.9 Z"/>
<path fill="rgb(100,100,100)" d="M469.8,506.7 L485.3,506.2 L480.7,511.3 L479.1,515.9 L472.9,517.5 L469.8,513.6 Z"/>
<path fill="rgb(116,116,116)" d="M418.9,537.6 L423.5,535.3 L439,534.5 L443.6,536.8 L437.4,539.1 L426.6,540.7 L421.2,539.9 Z"/>
<path fill="rgb(148,148,148)" d="M421.2,536.8 L425,535.3 L435.9,534.5 L439,536 L432.8,538.3 L425,540.2 L421.7,539.1 Z"/>
<path fill="rgb(148,148,148)" d="M471.4,506.7 L480.7,506.2 L478.3,512.1 L473.7,513.6 L471.4,510.5 Z"/>
<path fill="rgb(180,180,180)" d="M428.1,535.7 L435.1,534.8 L434.3,537.1 L428.9,537.9 Z"/>
<path fill="rgb(180,180,180)" d="M472.9,506.7 L479.1,506.7 L476,511.3 L473.7,510.5 Z"/>
</g>
<use href="#tx" transform="translate(336.2,491.1)"/>
</g>
<rect x="466" y="493.2" width="21.6" height="11.5" fill="#fff" fill-opacity="0.9"/>
<text x="468" y="500.6" font-size="10.6" textLength="19.3" lengthAdjust="spacingAndGlyphs">p14</text>
<rect x="336.6" y="492.6" width="151.8" height="112.8" fill="none" stroke="#000" stroke-width="1.25"/>
<g clip-path="url(#c33)">
<g filter="url(#cm)">
<rect x="486" y="482" width="173" height="134" fill="#000"/>
<path fill="rgb(18,18,18)" d="M598.7,501.3 L602.6,496.6 L607.2,485.5 L618,485.5 L616.5,499.7 L615.7,509 L614.9,515.2 L611.9,519.8 L609.5,515.2 L604.1,510.5 L599.5,505.9 Z"/>
<path fill="rgb(18,18,18)" d="M621.1,512.1 L624.2,508.2 L627.3,507.4 L628.1,505.1 L655.7,505.1 L655.7,528.3 L644.3,527.5 L641.2,522.9 L635,519 L631.9,524.4 L625.8,523.7 L622.7,519.8 Z"/>
<path fill="rgb(18,18,18)" d="M611.9,521.3 L615.7,522.1 L614.9,527.5 L612.6,526.8 Z"/>
<path fill="rgb(18,18,18)" d="M618,522.1 L625.8,522.9 L624.2,526.8 L618.8,526 Z"/>
<path fill="rgb(30,30,30)" d="M628.8,509 L635,505.9 L655.7,505.9 L655.7,526 L645.1,525.2 L641.2,519.8 L635,515.2 L629.6,512.9 Z"/>
<path fill="rgb(42,42,42)" d="M635,510.5 L639.7,507.4 L655.7,507.4 L655.7,521.3 L644.3,520.6 L639.7,516.7 Z"/>
<path fill="rgb(54,54,54)" d="M636.6,512.1 L641.2,511.3 L655.7,512.1 L655.7,516.7 L642.7,518.3 Z"/>
<path fill="rgb(66,66,66)" d="M640.9,515.2 L642,514.1 L643.1,515.2 L642,516.3 Z"/>
<path fill="rgb(66,66,66)" d="M654.3,496.6 L655.7,496.6 L655.7,505.1 L654.3,505.1 Z"/>
</g>
<use href="#tx" transform="translate(496.2,491.1)"/>
</g>
<rect x="626" y="493.2" width="21.6" height="11.5" fill="#fff" fill-opacity="0.9"/>
<text x="628" y="500.6" font-size="10.6" textLength="19.3" lengthAdjust="spacingAndGlyphs">p19</text>
<rect x="496.6" y="492.6" width="151.8" height="112.8" fill="none" stroke="#000" stroke-width="1.25"/>
<g clip-path="url(#c34)">
<g filter="url(#cm)">
<rect x="645" y="482" width="173" height="134" fill="#000"/>
<path fill="rgb(18,18,18)" d="M670.4,484.3 L814.7,484.3 L814.7,550.7 L800.2,546.1 L794,545.3 L787.8,546.1 L781.7,544.5 L775.5,541.4 L763.1,539.9 L753.9,540.7 L749.2,544.5 L746.1,549.2 L738.4,551.5 L727.6,551.5 L719.9,550.7 L712.2,552.2 L707.5,556.9 L701.3,560 L692.1,558.4 L685.9,560 L679.7,556.9 L670.4,556.9 L664.3,560 L661.2,564.6 L647.3,563.1 L647.3,536.8 L664.3,536.8 L672,535.3 L673.5,529.1 L670.4,521.3 L667.4,512.1 L670.4,504.4 Z"/>
<path fill="rgb(18,18,18)" d="M706,575.4 L709.1,572.3 L716.8,575.4 L726.1,576.2 L735.3,578.5 L747.7,581.6 L753.9,586.2 L755.4,592.4 L758.5,600.1 L757,614.7 L715.2,614.7 L710.6,597 L706.7,589.3 L707.5,581.6 Z"/>
<path fill="rgb(18,18,18)" d="M707.5,564.6 L713.7,564.3 L714.5,567.7 L709.8,569.2 Z"/>
<path fill="rgb(30,30,30)" d="M673.5,495.1 L701.3,485.8 L732.2,485.8 L741.5,501.3 L750.8,507.4 L778.6,506.7 L786.3,505.9 L814.7,505.9 L814.7,538.3 L800.2,538.3 L790.9,536.8 L784.8,538.3 L775.5,536.8 L769.3,533.7 L763.1,534.5 L753.9,536.8 L741.5,536.8 L729.1,535.3 L719.9,533.7 L709.1,529.1 L701.3,527.5 L699.8,538.3 L689,538.3 L685.9,526 L682.8,519.8 L678.2,530.6 L675.1,527.5 L673.5,515.2 Z"/>
<path fill="rgb(30,30,30)" d="M658.1,546.1 L665.8,544.5 L675.1,544.5 L695.2,544.5 L698.3,549.2 L701.3,555.3 L692.1,556.9 L682.8,554.6 L670.4,553 L661.2,553.8 Z"/>
<path fill="rgb(30,30,30)" d="M709.1,584.7 L713.7,581.6 L723,583.1 L732.2,583.1 L738.4,589.3 L743,592.4 L744.6,598.6 L732.2,614.7 L716.8,614.7 L712.2,595.5 Z"/>
<path fill="rgb(18,18,18)" d="M689,496.6 L698.3,496.6 L699,505.9 L690.5,507.4 Z"/>
<path fill="rgb(18,18,18)" d="M719.9,496.6 L729.1,496.6 L729.9,504.4 L721.4,502.8 Z"/>
<path fill="rgb(18,18,18)" d="M741.5,512.1 L753.9,511.3 L763.1,513.6 L760,516.7 L747.7,516.7 Z"/>
<path fill="rgb(18,18,18)" d="M794,515.2 L814.7,513.6 L814.7,526 L797.1,526 Z"/>
<path fill="rgb(0,0,0)" d="M686.7,522.9 L692.1,524.4 L698.3,532.2 L699,538.3 L690.5,538.3 L687.4,530.6 Z"/>
<path fill="rgb(0,0,0)" d="M712.9,543.7 L718.3,543 L721.4,545.3 L713.7,547.6 Z"/>
<path fill="rgb(0,0,0)" d="M691.3,499.7 L695.2,499 L695.9,503.6 L692.1,504.4 Z"/>
<path fill="rgb(0,0,0)" d="M798.7,519 L801.7,518.3 L802.5,521.3 L799.4,522.1 Z"/>
<path fill="rgb(42,42,42)" d="M675.1,496.6 L685.9,495.1 L687.4,504.4 L684.3,513.6 L682,521.3 L678.2,527.5 L675.9,515.2 Z"/>
<path fill="rgb(42,42,42)" d="M699.8,496.6 L706,495.9 L713.7,499.7 L718.3,504.4 L723,509 L730.7,512.1 L741.5,515.2 L753.9,518.3 L766.2,518.3 L778.6,519.8 L787.8,522.9 L789.4,529.1 L778.6,529.1 L769.3,532.2 L753.9,534.5 L741.5,534.5 L729.1,532.9 L719.9,530.6 L709.1,526 L701.3,524.4 L698.3,513.6 Z"/>
<path fill="rgb(42,42,42)" d="M732.2,485.8 L741.5,485.8 L747.7,501.3 L753.9,505.9 L778.6,505.1 L786.3,504.4 L786.3,512.1 L778.6,515.2 L766.2,512.1 L753.9,509.8 L744.6,509 L738.4,502.8 Z"/>
<path fill="rgb(42,42,42)" d="M664.3,546.1 L675.1,545.3 L693.6,545.3 L696.7,550.7 L692.1,555.3 L682.8,553 L673.5,551.5 Z"/>
<path fill="rgb(42,42,42)" d="M712.2,587.8 L716.8,584.7 L724.5,585.5 L732.2,586.2 L736.9,592.4 L741.5,597 L738.4,603.2 L732.2,614.7 L716.8,614.7 L713.7,597 Z"/>
<path fill="rgb(42,42,42)" d="M647.3,537.6 L664.3,537.6 L664.3,542.2 L647.3,542.2 Z"/>
<path fill="rgb(54,54,54)" d="M676.6,498.2 L684.3,496.6 L685.1,502.8 L682.8,513.6 L678.2,515.2 L676.6,507.4 Z"/>
<path fill="rgb(54,54,54)" d="M701.3,507.4 L707.5,502.8 L713.7,501.3 L718.3,505.9 L723,512.1 L732.2,515.2 L741.5,516.7 L750.8,519.8 L749.2,527.5 L738.4,528.3 L727.6,525.2 L716.8,523.7 L707.5,525.2 L701.3,521.3 Z"/>
<path fill="rgb(54,54,54)" d="M770.9,530.6 L778.6,529.1 L790.9,528.3 L814.7,528.3 L814.7,536.8 L790.9,536 L781.7,537.6 L773.9,535.3 Z"/>
<path fill="rgb(54,54,54)" d="M673.5,547.6 L682.8,546.1 L693.6,546.1 L694.4,550.7 L685.9,553 L676.6,551.5 Z"/>
<path fill="rgb(54,54,54)" d="M714.5,590.9 L718.3,587 L726.1,586.2 L733.8,589.3 L736.1,597 L733.8,614.7 L716.8,614.7 Z"/>
<path fill="rgb(54,54,54)" d="M678.2,522.1 L681.3,522.1 L682,526.8 L678.9,527.5 Z"/>
<path fill="rgb(66,66,66)" d="M741.5,485.5 L784.8,485.5 L784.8,505.1 L814.7,505.1 L814.7,507.4 L800.2,508.2 L797.1,513.6 L790.9,515.2 L787.8,510.5 L786.3,506.7 L778.6,510.5 L766.2,507.4 L753.9,505.1 L747.7,500.5 Z"/>
<path fill="rgb(66,66,66)" d="M701.3,510.5 L706,505.9 L712.2,503.6 L716,507.4 L719.9,512.9 L729.1,515.2 L738.4,517.5 L747.7,519 L750,522.1 L746.1,526.8 L738.4,527.5 L727.6,524.4 L716.8,522.1 L709.1,524.4 L704.4,522.1 L701.3,517.5 Z"/>
<path fill="rgb(66,66,66)" d="M772.4,532.2 L778.6,530.6 L790.9,529.8 L814.7,529.8 L814.7,535.3 L790.9,534.5 L781.7,536 L774.7,534.5 Z"/>
<path fill="rgb(66,66,66)" d="M675.9,549.2 L682.8,547.6 L692.8,547.3 L692.1,550.4 L684.3,551.9 L676.6,551 Z"/>
<path fill="rgb(66,66,66)" d="M676.6,498.2 L679.7,496.3 L683.6,498.2 L683.6,502 L679.7,503.6 L676.9,501.3 Z"/>
<path fill="rgb(66,66,66)" d="M677.1,508.2 L682,507.8 L682.5,512.4 L677.6,512.9 Z"/>
<path fill="rgb(66,66,66)" d="M715.2,594 L717.6,590.1 L723,587.8 L729.1,588.5 L733.8,592.4 L734.6,598.6 L732.2,614.7 L718.3,614.7 L715.6,600.1 Z"/>
<path fill="rgb(66,66,66)" d="M697.6,512.1 L699.8,511.3 L699.8,516.7 L697.9,515.9 Z"/>
<path fill="rgb(92,92,92)" d="M746.1,485.5 L784.8,485.5 L784.8,505.1 L778.6,507.4 L769.3,504.4 L760,502.8 L752.3,499.7 Z"/>
<path fill="rgb(92,92,92)" d="M702.1,512.1 L706.7,507.4 L712.2,505.9 L716,509.8 L717.6,515.2 L714.5,520.6 L709.1,522.1 L704.4,519.8 Z"/>
<path fill="rgb(92,92,92)" d="M716.8,595.5 L719.1,591.6 L723.7,589.3 L729.1,590.9 L732.2,594.7 L732.2,614.7 L719.9,614.7 L717.1,600.1 Z"/>
<path fill="rgb(92,92,92)" d="M789.4,507.4 L797.1,506.7 L794.8,512.1 L790.9,512.9 Z"/>
<path fill="rgb(116,116,116)" d="M705.2,513.6 L709.1,510.5 L712.9,512.1 L714.5,515.9 L711.4,519.8 L707.5,519 Z"/>
<path fill="rgb(116,116,116)" d="M718.3,597 L720.7,593.2 L725.3,592.1 L729.1,594.7 L730.7,614.7 L721.4,614.7 Z"/>
<path fill="rgb(116,116,116)" d="M753.9,494.3 L772.4,493.9 L769.3,499.7 L761.6,499 Z"/>
<path fill="rgb(140,140,140)" d="M708.8,514.4 L711.4,513.6 L713.4,515.9 L711.4,518 L709.1,517.2 Z"/>
<path fill="rgb(140,140,140)" d="M719.9,598.6 L722.2,594.7 L726.1,593.2 L728.4,597 L729.1,614.7 L723,614.7 L720.7,603.2 Z"/>
<path fill="rgb(196,196,196)" d="M724.5,600.9 L726.8,601.7 L729.1,614.7 L726.1,614.7 Z"/>
</g>
<use href="#tx" transform="translate(655.2,491.1)"/>
</g>
<rect x="785" y="493.2" width="21.6" height="11.5" fill="#fff" fill-opacity="0.9"/>
<text x="787" y="500.6" font-size="10.6" textLength="19.3" lengthAdjust="spacingAndGlyphs">p24</text>
<rect x="655.6" y="492.6" width="151.8" height="112.8" fill="none" stroke="#000" stroke-width="1.25"/>
<g clip-path="url(#c35)">
<g filter="url(#cm)">
<rect x="805" y="482" width="172" height="134" fill="#000"/>
<path fill="rgb(18,18,18)" d="M860.6,485.5 L974.7,485.5 L974.7,519.8 L961.7,520.6 L960.2,526.8 L954,525.2 L947.8,522.1 L938.6,516.7 L935.5,512.1 L932.4,507.4 L923.1,507.4 L913.9,506.7 L901.5,505.9 L892.2,504.4 L883,502.8 L873.7,500.5 L866,498.2 Z"/>
<path fill="rgb(18,18,18)" d="M823.5,575.4 L825,568.5 L828.9,566.9 L835.1,569.2 L839.7,567.7 L845.9,565.4 L855.2,562.3 L866,558.4 L872.2,555.3 L873.7,551.5 L883,551.5 L891.5,551.5 L893.8,548.4 L897.6,551.5 L900.7,555.3 L913.9,556.9 L923.1,560 L925.4,562.3 L913.9,563.1 L907.7,564.6 L906.1,570.8 L901.5,573.9 L903.8,578.5 L903,586.2 L896.9,590.9 L892.2,594 L887.6,590.9 L881.4,592.4 L873.7,591.6 L869.1,587.8 L861.3,586.2 L854.4,587.8 L853.6,592.4 L844.3,589.3 L841.3,584.7 L836.6,590.1 L832,584.7 L828.1,580.8 L823.5,579.3 Z"/>
<path fill="rgb(0,0,0)" d="M879.9,558.4 L887.6,555.3 L893.8,553.8 L895.3,556.9 L890.7,559.2 L896.9,560 L900,563.1 L897.6,566.1 L892.2,563.8 L884.5,563.8 L879.9,561.5 Z"/>
<path fill="rgb(30,30,30)" d="M890.7,485.5 L974.7,485.5 L974.7,517.5 L960.2,519 L957.1,522.9 L950.9,520.6 L941.7,515.2 L938.6,509 L932.4,504.4 L923.1,503.6 L909.2,502.8 L898.4,501.3 L891.5,498.2 Z"/>
<path fill="rgb(30,30,30)" d="M842.8,569.2 L845.9,566.1 L855.2,563.8 L866,560.7 L875.2,562.3 L881.4,566.1 L887.6,570.8 L898.4,573.9 L901.5,578.5 L901.5,584.7 L895.3,589.3 L887.6,588.5 L879.9,590.9 L873.7,589.3 L870.6,584.7 L861.3,583.1 L845.9,583.1 L842.8,578.5 Z"/>
<path fill="rgb(30,30,30)" d="M827.4,573.9 L832,572.3 L838.2,573.1 L839.7,577 L836.6,580.8 L830.4,580 Z"/>
<path fill="rgb(42,42,42)" d="M892.2,485.5 L909.2,485.5 L907.7,496.6 L901.5,499 L893.8,498.2 Z"/>
<path fill="rgb(42,42,42)" d="M938.6,485.5 L944.8,485.5 L944.8,505.1 L974.7,505.1 L974.7,515.2 L960.2,516.7 L954,519.8 L947.8,516.7 L943.2,512.1 L940.1,504.4 Z"/>
<path fill="rgb(42,42,42)" d="M844.3,570 L848.2,566.9 L856.7,564.6 L866,562.3 L875.2,563.8 L881.4,567.7 L887.6,572.3 L896.9,574.6 L900,578.5 L900,583.9 L893.8,587.8 L887.6,587 L879.9,589.3 L874.5,587.8 L872.2,583.9 L864.4,581.6 L845.9,581.6 L843.6,577.7 Z"/>
<path fill="rgb(42,42,42)" d="M829.7,575.4 L833.5,574.6 L835.1,577 L832,578.2 Z"/>
<path fill="rgb(54,54,54)" d="M867.5,566.9 L873.7,564.6 L878.3,566.1 L883,570.8 L886.1,575.4 L876.8,575.4 L869.1,572.3 Z"/>
<path fill="rgb(54,54,54)" d="M845.1,570.8 L848.2,568.5 L852.1,569.2 L850.5,572.3 L845.9,573.1 Z"/>
<path fill="rgb(54,54,54)" d="M946.3,507.4 L949.4,505.9 L974.7,505.9 L974.7,513.6 L958.7,515.2 L950.9,515.9 Z"/>
<path fill="rgb(66,66,66)" d="M844.3,577.7 L847.4,576.2 L852.1,575.4 L849.8,571.6 L852.1,568.5 L859.8,567.7 L866,567.7 L869.8,570 L870.6,573.1 L868.3,576.2 L872.2,576.2 L876.8,574.6 L883,576.2 L887.6,577.7 L892.2,575.4 L896.9,577.7 L898.4,583.1 L895.3,585.5 L887.6,585.9 L883,588.5 L876.8,588.5 L874.5,584.7 L873.7,580 L867.5,579.3 L861.3,580.8 L853.6,581.6 L847.4,580.8 Z"/>
<path fill="rgb(66,66,66)" d="M947.8,507.4 L950.2,505.9 L973.3,505.9 L961.7,509.8 L960.2,513.6 L954,514.9 L949.4,512.9 Z"/>
<path fill="rgb(66,66,66)" d="M939.3,485.8 L944,485.8 L944,497.4 L940.1,497.4 Z"/>
<path fill="rgb(92,92,92)" d="M850.5,577.7 L853.6,573.1 L856.7,570.8 L864.4,569.2 L866,572.3 L862.9,576.2 L858.3,579.3 L852.1,580 Z"/>
<path fill="rgb(92,92,92)" d="M876,582.4 L878.3,578.5 L883,578.5 L889.1,580.8 L892.2,584.7 L883,586.5 L876.8,586.2 Z"/>
<path fill="rgb(92,92,92)" d="M949.4,507.4 L951.7,506.2 L963.3,506.2 L960.2,512.1 L954,513.6 L950.9,511.3 Z"/>
<path fill="rgb(116,116,116)" d="M954,506.7 L960.2,506.7 L959.4,510.5 L955.6,511.3 Z"/>
<path fill="rgb(148,148,148)" d="M954.8,505.9 L957.9,505.9 L957.9,507.6 L954.8,507.6 Z"/>
</g>
<use href="#tx" transform="translate(815,491.1)"/>
</g>
<rect x="944" y="493.2" width="21.6" height="11.5" fill="#fff" fill-opacity="0.9"/>
<text x="946" y="500.6" font-size="10.6" textLength="19.3" lengthAdjust="spacingAndGlyphs">p29</text>
<rect x="815.6" y="492.6" width="150.8" height="112.8" fill="none" stroke="#000" stroke-width="1.25"/>
<g clip-path="url(#c40)">
<g filter="url(#cm)">
<rect x="8" y="625" width="172" height="135" fill="#000"/>
<path fill="rgb(18,18,18)" d="M25,645.8 L27.3,641.2 L33.4,639.6 L35.8,628.5 L46.6,628.5 L47.3,645.8 L44.3,650.4 L39.6,652.8 L35,655.9 L30.4,654.3 L26.5,650.4 Z"/>
<path fill="rgb(18,18,18)" d="M22.6,628.8 L30.4,628.5 L28.8,639.6 L24.2,639.6 Z"/>
<path fill="rgb(18,18,18)" d="M35,672.1 L37.3,668.2 L41.9,668.2 L45.8,672.8 L43.5,676.7 L37.3,677.5 Z"/>
<path fill="rgb(18,18,18)" d="M76.7,628.5 L113.8,628.5 L114.5,642 L107.6,645.8 L101.4,645.8 L95.2,642.7 L89.1,644.3 L82.9,642 Z"/>
<path fill="rgb(18,18,18)" d="M120,639.6 L123,628.5 L177.7,628.5 L177.7,672.8 L153.9,672.8 L152.4,669 L147.8,665.1 L141.6,661.3 L138.5,653.5 L136.9,647.4 L129.2,643.5 L123,643.5 Z"/>
<path fill="rgb(18,18,18)" d="M157,674.4 L177.7,674.4 L177.7,676.7 L161.7,677.5 Z"/>
<path fill="rgb(18,18,18)" d="M35,698.3 L39.6,696 L42.7,691.4 L48.9,688.3 L59.7,687.5 L69,687.5 L76.7,689.1 L86,690.6 L95.2,693.7 L86,696 L87.5,701.4 L84.4,704.5 L86,709.1 L81.3,712.2 L79.8,716.9 L73.6,719.2 L67.4,717.6 L62.8,716.1 L56.6,714.6 L47.3,716.1 L41.2,715.3 L37.3,710.7 L38.1,704.5 L35,701.4 Z"/>
<path fill="rgb(18,18,18)" d="M11.8,708.4 L25.7,706.8 L30.4,707.6 L33.4,712.2 L28.8,713.8 L22.6,713.8 L11.8,711.5 Z"/>
<path fill="rgb(30,30,30)" d="M33.4,641.2 L36.5,628.8 L45.8,628.8 L46.6,644.3 L43.5,648.9 L38.9,651.2 L35,648.9 Z"/>
<path fill="rgb(30,30,30)" d="M136.9,628.5 L147.8,628.5 L147.8,648.1 L177.7,648.1 L177.7,665.9 L163.2,667.4 L157,665.9 L150.8,662.8 L144.7,659.7 L141.6,652 L140,644.3 Z"/>
<path fill="rgb(30,30,30)" d="M42.7,699.9 L45.8,693.7 L52,689.8 L64.3,689.1 L75.2,690.6 L79.8,695.2 L82.9,701.4 L84.4,707.6 L79.8,712.2 L76.7,716.9 L69,716.1 L58.2,713 L48.9,711.5 L42.7,707.6 Z"/>
<path fill="rgb(30,30,30)" d="M79.8,637.3 L90.6,628.8 L92.1,639.6 L86,642 Z"/>
<path fill="rgb(30,30,30)" d="M24.2,709.1 L28.8,708.8 L29.6,711.5 L25,711.9 Z"/>
<path fill="rgb(42,42,42)" d="M35,641.2 L37.3,637.3 L44.3,637.3 L45,643.5 L41.9,647.4 L37.3,648.9 Z"/>
<path fill="rgb(42,42,42)" d="M138.5,638.1 L147,637.3 L147,647.4 L141.6,645.8 Z"/>
<path fill="rgb(42,42,42)" d="M144.7,652 L149.3,648.9 L177.7,648.9 L177.7,661.3 L163.2,663.6 L153.9,662 L147,658.2 Z"/>
<path fill="rgb(42,42,42)" d="M43.5,701.4 L47.3,695.2 L53.5,691.4 L64.3,690.6 L73.6,692.2 L78.2,696.8 L81.3,703 L82.9,707.6 L78.2,712.2 L75.2,715.3 L64.3,714.6 L56.6,711.5 L48.9,709.1 L44.3,706.1 Z"/>
<path fill="rgb(54,54,54)" d="M36.5,641.2 L38.9,638.9 L42.7,638.9 L43.5,643.5 L40.4,646.6 L37.3,645.8 Z"/>
<path fill="rgb(54,54,54)" d="M147.8,652.8 L150.8,649.7 L166.3,649.7 L166.3,658.2 L157,660.5 L150.8,658.2 Z"/>
<path fill="rgb(54,54,54)" d="M45,701.4 L50.4,694.5 L56.6,692.5 L67.4,692.5 L72.1,696 L76.7,701.4 L81.3,706.8 L76.7,712.2 L70.5,715.3 L62.8,714.6 L55.1,710.7 L48.9,707.6 Z"/>
<path fill="rgb(66,66,66)" d="M38.1,642.7 L39.6,641.2 L42.4,642 L41.5,646.1 L38.9,647 Z"/>
<path fill="rgb(66,66,66)" d="M153.2,655.1 L156.3,649.2 L176.3,648.9 L176.3,650.4 L161.7,651.2 L160.1,655.1 Z"/>
<path fill="rgb(66,66,66)" d="M54.3,698.3 L57.4,694.5 L65.9,694 L70.5,698.3 L75.2,703 L79.8,706.1 L81.3,710.7 L76.7,714.6 L69,716.1 L63.6,714.6 L56.6,711.5 L55.1,707.6 L56.6,703 Z"/>
<path fill="rgb(66,66,66)" d="M45,703.7 L48.1,701.7 L51.2,703 L51.2,706.8 L47.3,707.6 Z"/>
<path fill="rgb(92,92,92)" d="M58.9,707.6 L61.3,701.4 L64.3,697.6 L69,700.7 L75.2,704.5 L79.8,707.6 L79.8,711.5 L75.2,714.1 L67.4,715.3 L62.8,713 Z"/>
<path fill="rgb(92,92,92)" d="M154.7,654.3 L157,650.4 L160.9,650.4 L159.3,654.8 Z"/>
<path fill="rgb(116,116,116)" d="M64.3,710.7 L67.4,706.8 L73.6,706.1 L79,708.4 L79,711.5 L73.6,713.8 L67.4,714.6 Z"/>
</g>
<use href="#tx" transform="translate(18,634.5)"/>
</g>
<rect x="147" y="636.2" width="21.6" height="11.5" fill="#fff" fill-opacity="0.9"/>
<text x="149" y="643.6" font-size="10.6" textLength="19.3" lengthAdjust="spacingAndGlyphs">p05</text>
<rect x="18.6" y="635.6" width="150.8" height="113.8" fill="none" stroke="#000" stroke-width="1.25"/>
<g clip-path="url(#c41)">
<g filter="url(#cm)">
<rect x="167" y="625" width="173" height="135" fill="#000"/>
<path fill="rgb(18,18,18)" d="M169.3,628.5 L221.8,628.5 L221.8,681.3 L212.5,682.9 L207.9,679.8 L200.2,679 L194,681.3 L186.3,681.3 L184,675.2 L184.7,667.4 L180.1,664.3 L169.3,665.9 Z"/>
<path fill="rgb(18,18,18)" d="M223.3,650.4 L229.5,652 L237.2,656.6 L235.7,661.3 L223.3,660.5 Z"/>
<path fill="rgb(18,18,18)" d="M221.8,665.9 L229.5,668.2 L241.9,672.1 L254.2,675.9 L266.6,679.8 L275.9,684.4 L285.1,687.5 L297.5,689.8 L308.3,694.5 L316,698.3 L336.7,698.3 L336.7,707.6 L319.1,707.6 L312.9,709.9 L306.8,712.2 L299,711.5 L291.3,715.3 L285.1,718.4 L279,723.8 L275.9,726.9 L269.7,726.1 L263.5,727.7 L255.8,726.1 L249.6,723.8 L243.4,723 L238.8,722.3 L234.2,723.8 L231.1,720.7 L229.5,715.3 L226.4,710.7 L224.9,707.6 L221.8,706.1 L217.2,704.5 L218.7,701.4 L214.1,698.3 L210.2,696.8 L214.1,693.7 L214.8,687.5 L221.8,682.9 Z"/>
<path fill="rgb(18,18,18)" d="M238.8,628.5 L263.5,628.5 L269.7,639.6 L275.9,645.8 L279,650.4 L269.7,650.4 L263.5,648.1 L254.2,645.8 L248.1,642.7 L241.9,641.2 Z"/>
<path fill="rgb(18,18,18)" d="M289.8,639.6 L294.4,628.5 L306.8,628.5 L306.8,648.1 L336.7,648.1 L336.7,672.1 L316,672.1 L316,664.3 L320.7,662 L325.3,658.2 L322.2,655.1 L316,662.8 L311.4,665.9 L306.8,665.1 L300.6,661.3 L295.9,655.1 L291.3,647.4 Z"/>
<path fill="rgb(0,0,0)" d="M201.7,644.3 L206.3,639.6 L215.6,638.9 L221,642.7 L221,648.9 L211,650.4 L203.3,650.4 Z"/>
<path fill="rgb(0,0,0)" d="M197.1,660.5 L204.8,658.9 L217.2,658.2 L221,661.3 L220.3,664.3 L207.9,665.1 L200.2,664.3 Z"/>
<path fill="rgb(0,0,0)" d="M183.2,643.5 L189.4,641.2 L192.4,645.8 L186.3,648.1 Z"/>
<path fill="rgb(0,0,0)" d="M186.3,672.1 L189.4,671.3 L190.1,675.2 L187,675.9 Z"/>
<path fill="rgb(0,0,0)" d="M234.2,680.6 L241.9,679.8 L243.4,682.1 L235.7,682.9 Z"/>
<path fill="rgb(0,0,0)" d="M299,648.1 L302.9,647.7 L303.4,650.4 L299.3,651.2 Z"/>
<path fill="rgb(30,30,30)" d="M181.6,653.5 L186.3,651.2 L195.5,652 L200.2,656.6 L197.1,661.3 L194,665.9 L201.7,668.2 L214.1,665.9 L221.8,668.2 L229.5,670.5 L232.6,674.4 L228,679 L221.8,679.8 L212.5,679 L207.9,676.7 L200.2,676.7 L195.5,679.8 L186.3,678.3 L186.3,670.5 L183.2,662.8 Z"/>
<path fill="rgb(30,30,30)" d="M214.1,652.8 L221,652 L221,655.1 L214.8,655.4 Z"/>
<path fill="rgb(30,30,30)" d="M221,689.1 L226.4,685.2 L238.8,683.7 L251.1,684.4 L262,682.9 L272.8,686 L285.1,688.3 L294.4,692.2 L303.7,696.8 L308.3,701.4 L303.7,707.6 L297.5,710.7 L288.2,713.8 L282,718.4 L277.4,724.6 L269.7,725.4 L260.4,726.1 L252.7,723 L245,721.5 L238.8,712.2 L235.7,709.1 L228,712.2 L226.4,708.4 L235.7,706.8 L241.9,703 L248.1,698.3 L241.9,696.8 L229.5,696 L222.6,693.7 Z"/>
<path fill="rgb(30,30,30)" d="M217.2,703 L220.3,702.2 L221,705.3 L217.9,705.7 Z"/>
<path fill="rgb(30,30,30)" d="M254.2,628.8 L263.5,637.3 L268.1,642.7 L269.7,647.4 L263.5,646.6 L257.3,643.5 Z"/>
<path fill="rgb(30,30,30)" d="M303.7,655.1 L308.3,650.4 L309.8,648.6 L322.2,648.9 L323.7,653.5 L320.7,658.2 L316,661.3 L311.4,664.3 L306.8,662.8 Z"/>
<path fill="rgb(42,42,42)" d="M183.2,654.3 L187.8,652 L194.8,652.8 L197.9,656.6 L194.8,660.5 L190.9,663.6 L186.3,662 Z"/>
<path fill="rgb(42,42,42)" d="M187.8,667.4 L197.1,668.2 L204.8,667.4 L212.5,666.7 L215.6,672.1 L207.9,673.6 L200.2,672.8 L197.1,676.7 L192.4,675.9 Z"/>
<path fill="rgb(42,42,42)" d="M214.1,671.3 L221.8,669.8 L229.5,671.3 L231.8,674.4 L228,678.3 L220.3,678.3 L215.6,675.9 Z"/>
<path fill="rgb(42,42,42)" d="M225.7,689.1 L229.5,686.7 L238.8,686 L251.1,686.7 L254.2,691.4 L249.6,694.5 L238.8,695.2 L229.5,694.5 L226.1,692.2 Z"/>
<path fill="rgb(42,42,42)" d="M262,692.2 L272.8,689.8 L285.1,691.4 L294.4,694.5 L300.6,699.9 L299,706.1 L291.3,710.7 L282,713.8 L277.4,721.5 L269.7,723.8 L260.4,724.6 L252.7,721.5 L246.5,718.4 L241.9,712.2 L240.3,707.6 L245,703 L254.2,698.3 Z"/>
<path fill="rgb(42,42,42)" d="M228,708.8 L235.7,707.6 L234.2,710.7 L229.5,711.5 Z"/>
<path fill="rgb(42,42,42)" d="M309.8,652 L316,650.4 L319.1,655.1 L316,659.7 L311.4,660.5 Z"/>
<path fill="rgb(54,54,54)" d="M185.5,655.1 L189.4,653.2 L193.7,654.3 L194.8,658.2 L191.7,661.3 L187,660 Z"/>
<path fill="rgb(54,54,54)" d="M217.9,672.1 L223.3,670.8 L228,672.8 L228,675.9 L222.6,677 L218.4,675.5 Z"/>
<path fill="rgb(54,54,54)" d="M192.4,669.8 L197.9,669.3 L198.6,672.8 L194.8,674.4 Z"/>
<path fill="rgb(54,54,54)" d="M230.3,689.1 L238.8,687.5 L245,689.8 L243.4,693.7 L235.7,694.5 L230.8,692.5 Z"/>
<path fill="rgb(54,54,54)" d="M243.4,707.6 L249.6,701.4 L260.4,698.3 L272.8,696 L285.1,694.5 L292.9,696.8 L297.5,703 L294.4,707.6 L285.1,709.1 L279,715.3 L275.9,722.3 L269.7,723 L260.4,723.8 L253.5,720 L248.1,715.3 Z"/>
<path fill="rgb(54,54,54)" d="M311.4,653.5 L316,652 L317.6,656.6 L313.7,658.2 Z"/>
<path fill="rgb(66,66,66)" d="M245.7,707.6 L249.6,703.7 L260.4,699.9 L272.8,697.6 L285.1,696 L289.8,697.6 L293.6,704.5 L288.2,706.8 L279,708.4 L272.8,710.7 L272.8,713.8 L268.1,714.6 L265,716.9 L265.8,721.5 L260.4,723.4 L255.8,719.2 L251.1,715.3 L247.3,711.5 Z"/>
<path fill="rgb(66,66,66)" d="M233.8,689.4 L240.3,689.1 L240.6,692.5 L234.2,692.9 Z"/>
<path fill="rgb(66,66,66)" d="M187.5,656.6 L189.4,656.6 L189.4,659.4 L187.5,659.4 Z"/>
<path fill="rgb(66,66,66)" d="M312.2,655.5 L316,655.4 L316,657.2 L312.2,657.2 Z"/>
<path fill="rgb(66,66,66)" d="M317.6,648.3 L336.7,648.3 L336.7,649.8 L322.2,650.1 Z"/>
<path fill="rgb(84,84,84)" d="M249.6,707.6 L257.3,703 L269.7,699.9 L283.6,697.6 L288.2,699.9 L290.5,704.5 L283.6,706.4 L275.9,707.6 L269.7,709.9 L263.5,712.2 L257.3,712.2 L251.1,710.7 Z"/>
<path fill="rgb(100,100,100)" d="M266.6,702.2 L275.9,699.9 L283.6,699.9 L284.4,703.7 L277.4,706.1 L269.7,706.8 L267.4,704.5 Z"/>
<path fill="rgb(54,54,54)" d="M264.3,715.3 L269.7,709.9 L273.5,709.1 L272.8,713.8 L275.9,715.3 L272.8,720 L268.1,720.7 L265,719.2 Z"/>
</g>
<use href="#tx" transform="translate(177.2,634.5)"/>
</g>
<rect x="307" y="636.2" width="21.6" height="11.5" fill="#fff" fill-opacity="0.9"/>
<text x="309" y="643.6" font-size="10.6" textLength="19.3" lengthAdjust="spacingAndGlyphs">p10</text>
<rect x="177.6" y="635.6" width="151.8" height="113.8" fill="none" stroke="#000" stroke-width="1.25"/>
<g clip-path="url(#c42)">
<g filter="url(#cm)">
<rect x="326" y="625" width="173" height="135" fill="#000"/>
<path fill="rgb(18,18,18)" d="M343.2,628.5 L405,628.5 L398.8,641.2 L394.2,645.8 L392.6,651.2 L389.5,650.4 L386.4,646.6 L381.8,645.8 L374.1,648.1 L364.8,649.7 L357.1,650.4 L354,645.8 L350.9,639.6 L346.3,642.7 Z"/>
<path fill="rgb(18,18,18)" d="M437.4,628.5 L496.7,628.5 L496.7,672.1 L472.9,672.1 L469.8,669.8 L463.7,669.8 L459,665.1 L454.4,658.2 L451.3,652 L445.1,647.4 L439,642.7 Z"/>
<path fill="rgb(30,30,30)" d="M357.1,637.3 L381.8,628.8 L381.8,641.2 L377.2,642.7 L367.9,642 L363.3,646.6 L358.6,647.4 L356.3,643.5 Z"/>
<path fill="rgb(30,30,30)" d="M451.3,628.5 L496.7,628.5 L496.7,670.5 L476,669.8 L468.3,666.7 L460.6,662.8 L455.9,655.1 L452.9,645.8 Z"/>
<path fill="rgb(42,42,42)" d="M358.6,636.9 L375.6,628.8 L380.3,639.6 L372.5,641.2 L366.3,639.6 L361.7,641.2 Z"/>
<path fill="rgb(42,42,42)" d="M453.6,628.5 L496.7,628.5 L496.7,669 L479.1,668.2 L469.8,665.1 L462.1,660.5 L457.5,653.5 L455.2,644.3 Z"/>
<path fill="rgb(54,54,54)" d="M455.9,637.3 L466.8,628.8 L466.8,648.1 L496.7,648.1 L496.7,665.9 L479.1,664.3 L469.8,662.8 L463.7,658.2 L459,652 Z"/>
<path fill="rgb(66,66,66)" d="M463.7,658.2 L466,654.3 L471.4,651.2 L472.9,648.9 L495.3,648.9 L495.3,651.2 L482.2,652 L480.7,656.6 L474.5,659.7 L468.3,661 L464.4,660.5 Z"/>
<path fill="rgb(66,66,66)" d="M458,637.8 L460.3,637.5 L460.3,640.3 L458.1,640.3 Z"/>
<path fill="rgb(92,92,92)" d="M470.6,656.6 L472.9,650.4 L480.7,649.7 L479.9,655.1 L475.3,658.2 Z"/>
<path fill="rgb(116,116,116)" d="M472.9,650.4 L479.1,649.2 L495.3,649.2 L495.3,650.4 L477.6,652.8 L473.7,653.5 Z"/>
<path fill="rgb(54,54,54)" d="M480.7,652.8 L495.3,651.2 L495.3,658.2 L482.2,657.4 Z"/>
<path fill="rgb(18,18,18)" d="M482.7,675.6 L485.3,675.6 L485.3,679.3 L482.7,679.3 Z"/>
</g>
<use href="#tx" transform="translate(336.2,634.5)"/>
</g>
<rect x="466" y="636.2" width="21.6" height="11.5" fill="#fff" fill-opacity="0.9"/>
<text x="468" y="643.6" font-size="10.6" textLength="19.3" lengthAdjust="spacingAndGlyphs">p15</text>
<rect x="336.6" y="635.6" width="151.8" height="113.8" fill="none" stroke="#000" stroke-width="1.25"/>
<g clip-path="url(#c43)">
<g filter="url(#cm)">
<rect x="486" y="625" width="173" height="135" fill="#000"/>
<path fill="rgb(18,18,18)" d="M488.3,628.5 L540.8,628.5 L540.8,655.1 L536.2,658.2 L531.5,656.6 L526.9,652.8 L523.8,655.1 L523,665.9 L521.5,675.9 L516.9,675.9 L514.5,669 L513.8,662 L509.9,662.8 L502.2,667.4 L489.8,668.2 L488.3,665.9 Z"/>
<path fill="rgb(0,0,0)" d="M528.9,644.7 L531.8,644.3 L532.1,648.4 L529.2,648.9 Z"/>
<path fill="rgb(18,18,18)" d="M540.8,628.5 L655.7,628.5 L655.7,672.1 L631.9,672.1 L628.8,673.6 L624.2,669 L619.6,665.9 L613.4,667.4 L604.1,668.2 L594.9,668.2 L588.7,667.4 L582.5,665.1 L573.2,662.8 L564,662 L559.3,662 L564,659.7 L562.4,655.1 L557.8,654.3 L553.2,655.1 L547,656.6 L542.3,655.9 Z"/>
<path fill="rgb(0,0,0)" d="M542.3,642.7 L547,645.8 L550.8,650.4 L550.1,654.3 L547,652 L542.3,648.1 Z"/>
<path fill="rgb(0,0,0)" d="M596.4,661.3 L602.6,658.2 L604.1,650.4 L605.7,644.3 L610.3,642.7 L614.9,647.4 L615.7,655.1 L619.6,661.3 L619.6,664.3 L610.3,665.1 L601,664.3 Z"/>
<path fill="rgb(18,18,18)" d="M596.4,698.3 L604.1,696.8 L619.6,697.6 L628.8,696.8 L635,693.7 L641.2,691.4 L655.7,689.8 L655.7,721.5 L644.3,720 L641.2,716.9 L635,718.4 L628.8,719.2 L619.6,722.3 L616.5,726.1 L610.3,727.7 L604.1,729.2 L601,733.9 L599.5,729.2 L602.6,724.6 L607.2,721.5 L604.1,719.2 L594.9,719.2 L588.7,716.9 L582.5,714.6 L582.5,710.7 L588.7,709.1 L598,707.6 L607.2,705.3 L613.4,703 L604.1,702.2 L598,700.7 Z"/>
<path fill="rgb(30,30,30)" d="M500.6,639.6 L505.3,628.8 L525.3,628.8 L526.9,642.7 L523.8,648.1 L516.1,650.4 L511.4,648.9 L509.9,653.5 L506.8,658.2 L505.3,650.4 L502.2,647.4 Z"/>
<path fill="rgb(30,30,30)" d="M553.2,639.6 L562.4,638.9 L571.7,638.9 L582.5,639.6 L585.6,642.7 L582.5,645.8 L573.2,646.6 L565.5,648.1 L559.3,644.3 Z"/>
<path fill="rgb(30,30,30)" d="M618,652 L621.1,648.9 L627.3,648.1 L655.7,648.1 L655.7,665.9 L641.2,666.7 L631.9,665.1 L624.2,661.3 L619.6,658.2 Z"/>
<path fill="rgb(30,30,30)" d="M499.9,661.3 L502.2,660.5 L503,663.6 L500.3,664.3 Z"/>
<path fill="rgb(30,30,30)" d="M588.7,713.8 L594.9,710.7 L604.1,708.4 L613.4,705.3 L622.7,703 L628.8,699.9 L635,698.3 L655.7,696.8 L655.7,716.9 L641.2,714.6 L631.9,716.9 L622.7,719.2 L616.5,721.5 L607.2,720 L596.4,718.4 L590.2,716.9 Z"/>
<path fill="rgb(30,30,30)" d="M610.3,723.8 L614.2,722.7 L614.9,725.4 L611.5,726.4 Z"/>
<path fill="rgb(42,42,42)" d="M503,641.2 L506.8,638.1 L514.5,637.3 L523.8,638.1 L524.6,643.5 L520.7,647.4 L514.5,648.1 L509.9,647.4 L506.8,649.7 L503.7,646.6 Z"/>
<path fill="rgb(42,42,42)" d="M562.4,639.3 L571.7,638.9 L574.8,642 L570.1,644.3 L564.7,642.7 Z"/>
<path fill="rgb(42,42,42)" d="M621.1,652.8 L624.2,650.4 L627.3,652 L627.3,658.2 L624.2,659.7 L621.4,656.6 Z"/>
<path fill="rgb(42,42,42)" d="M628.8,658.2 L655.7,658.2 L655.7,663.6 L635,663.6 Z"/>
<path fill="rgb(42,42,42)" d="M590.2,714.6 L596.4,711.5 L607.2,708.8 L618,705.3 L627.3,702.2 L635,700.7 L655.7,699.9 L655.7,715.3 L641.2,713.8 L631.9,715.3 L622.7,717.6 L614.9,719.7 L604.1,718.4 L594.9,717.6 Z"/>
<path fill="rgb(54,54,54)" d="M504.5,642.7 L508.4,639.6 L513,641.2 L511.4,645.8 L507.6,648.1 L505,645.8 Z"/>
<path fill="rgb(54,54,54)" d="M622.7,653.5 L625.8,652 L627,656.6 L623.9,658.2 Z"/>
<path fill="rgb(54,54,54)" d="M591.8,715 L598,712.2 L608.8,709.5 L619.6,706.1 L628.8,703.7 L638.1,703 L655.7,703.7 L655.7,714.6 L635,714.6 L622.7,716.9 L614.9,718.4 L604.1,717.6 L594.9,716.9 Z"/>
<path fill="rgb(66,66,66)" d="M516.1,639.6 L517.6,628.8 L521.5,628.8 L522,641.2 L519.2,645 L516.4,645.8 Z"/>
<path fill="rgb(66,66,66)" d="M621.1,628.8 L625,628.8 L625,642.7 L621.9,642 Z"/>
<path fill="rgb(66,66,66)" d="M628.8,654.3 L631.2,648.9 L655.7,648.6 L644.3,653.5 L642.7,657.4 L635,658.2 L629.6,656.6 Z"/>
<path fill="rgb(66,66,66)" d="M592.5,714.6 L598,712.2 L610.3,709.9 L619.6,707.3 L627.3,705.3 L631.9,704.2 L635.8,703.7 L655.7,706.1 L655.7,713.8 L638.1,713.5 L631.9,715.3 L625.8,716.9 L619.6,719.2 L615.7,719.2 L617.3,715.3 L610.3,716.9 L602.6,716.6 L594.9,716.1 Z"/>
<path fill="rgb(92,92,92)" d="M598,713.8 L610.3,711 L619.6,708.4 L628.8,706.4 L635,707.6 L655.7,709.1 L655.7,712.2 L635,712.2 L625.8,714.6 L619.6,716.9 L619.6,713.8 L610.3,715.3 L602.6,715.3 Z"/>
<path fill="rgb(92,92,92)" d="M630.4,653.5 L633.5,649.7 L644.3,649.7 L641.2,655.1 L635,656.6 Z"/>
<path fill="rgb(116,116,116)" d="M635,650.4 L641.2,649.7 L639.7,652.8 L635.8,653.5 Z"/>
<path fill="rgb(148,148,148)" d="M637.3,648.6 L644.3,648.6 L641.2,651.2 L638.1,650.4 Z"/>
</g>
<use href="#tx" transform="translate(496.2,634.5)"/>
</g>
<rect x="626" y="636.2" width="21.6" height="11.5" fill="#fff" fill-opacity="0.9"/>
<text x="628" y="643.6" font-size="10.6" textLength="19.3" lengthAdjust="spacingAndGlyphs">p20</text>
<rect x="496.6" y="635.6" width="151.8" height="113.8" fill="none" stroke="#000" stroke-width="1.25"/>
<g clip-path="url(#c44)">
<g filter="url(#cm)">
<rect x="645" y="625" width="173" height="135" fill="#000"/>
<path fill="rgb(18,18,18)" d="M670.4,645.8 L675.1,639.6 L679.7,636.9 L682,638.1 L680.5,645.8 L676.6,650.4 L672,649.7 Z"/>
<path fill="rgb(18,18,18)" d="M648.8,646.6 L659.6,647.4 L659.6,652 L648.8,653.5 Z"/>
<path fill="rgb(18,18,18)" d="M663.2,644.7 L666.9,644.7 L666.9,646.9 L663.2,646.9 Z"/>
<path fill="rgb(18,18,18)" d="M702.1,651.2 L706,648.1 L713.7,647 L723,648.9 L732.2,651.2 L741.5,652.8 L750.8,652.8 L757,651.2 L760,645.8 L760,628.5 L814.7,628.5 L814.7,663.6 L800.2,662.8 L794,661.3 L790.9,664.3 L786.3,665.9 L778.6,665.1 L773.9,659.7 L769.3,662 L763.1,664.3 L757,669 L747.7,669.8 L738.4,666.7 L729.1,665.1 L719.9,663.6 L712.2,660.5 L704.4,656.6 Z"/>
<path fill="rgb(0,0,0)" d="M773.9,642.7 L778.6,642 L784.8,644.3 L784.8,648.1 L778.6,648.9 L773.2,647.4 Z"/>
<path fill="rgb(0,0,0)" d="M763.1,661.3 L769.3,659.7 L773.9,658.9 L777,663.6 L766.2,665.1 Z"/>
<path fill="rgb(18,18,18)" d="M716.8,637.3 L732.2,636.9 L733.8,641.2 L724.5,642.4 L718.3,640.4 Z"/>
<path fill="rgb(18,18,18)" d="M778.6,690.6 L784.8,688.3 L794,686.7 L814.7,685.2 L814.7,691.4 L800.2,692.9 L790.9,692.2 L783.2,693.4 L778.6,692.9 Z"/>
<path fill="rgb(18,18,18)" d="M677.4,704.5 L679.7,699.1 L683.6,696 L693.6,695.2 L699.8,692.9 L707.5,694.5 L716.8,696 L723,698.3 L724.5,703 L721.4,707.6 L715.2,706.1 L706,705.3 L701.3,707.6 L696.7,709.1 L696.7,712.2 L692.1,714.6 L687.4,713 L682.8,709.1 L678.2,708.4 Z"/>
<path fill="rgb(30,30,30)" d="M708.8,652.9 L714.8,652.5 L715.2,655.1 L709.1,655.4 Z"/>
<path fill="rgb(30,30,30)" d="M783.2,658.2 L786.3,652 L787.8,648.6 L814.7,648.6 L814.7,659.7 L800.2,660.5 L790.9,659.7 Z"/>
<path fill="rgb(30,30,30)" d="M770.9,628.8 L784.8,628.8 L784.8,641.2 L773.9,642 Z"/>
<path fill="rgb(30,30,30)" d="M680.5,704.5 L682.8,699.1 L693.6,696.8 L699.8,695.2 L707.5,696 L716.8,697.6 L721.4,700.7 L720.7,705.3 L715.2,704.5 L706,703.7 L699.8,706.1 L695.2,708.4 L693.6,712.2 L689,712.2 L684.3,708.4 Z"/>
<path fill="rgb(42,42,42)" d="M788.6,655.1 L794,652 L803.3,652.8 L814.7,654.3 L814.7,657.4 L800.2,658.2 L790.9,658.9 Z"/>
<path fill="rgb(42,42,42)" d="M682,704.5 L684.3,699.9 L693.6,698 L701.3,696.8 L713.7,698 L718.3,701.4 L716.8,704.5 L706,703 L698.3,705.3 L693.6,708.4 L689,710.7 L685.1,707.6 Z"/>
<path fill="rgb(54,54,54)" d="M790.9,655.9 L797.1,653.5 L801.7,654.3 L797.1,657.4 Z"/>
<path fill="rgb(66,66,66)" d="M695.9,699.1 L699.8,697.6 L709.1,698 L713.4,699.9 L712.9,703 L706,703.7 L699.8,704.8 L696.7,703 Z"/>
<path fill="rgb(66,66,66)" d="M682,703 L685.1,699.9 L688.2,703 L689.8,706.1 L685.9,707.6 L682.8,706.8 Z"/>
<path fill="rgb(66,66,66)" d="M689.4,708.8 L693,708.5 L693.6,711.3 L690.2,711.3 Z"/>
<path fill="rgb(66,66,66)" d="M800.2,648.3 L814.7,648.3 L814.7,650 L801,650 Z"/>
<path fill="rgb(100,100,100)" d="M698.3,699.9 L709.1,699.1 L712.2,701.4 L706,703 L700.6,703.7 L698.6,702.2 Z"/>
<path fill="rgb(100,100,100)" d="M684.3,701.4 L688.2,703.7 L689,705.7 L685.9,706.4 L684,704.5 Z"/>
</g>
<use href="#tx" transform="translate(655.2,634.5)"/>
</g>
<rect x="785" y="636.2" width="21.6" height="11.5" fill="#fff" fill-opacity="0.9"/>
<text x="787" y="643.6" font-size="10.6" textLength="19.3" lengthAdjust="spacingAndGlyphs">p25</text>
<rect x="655.6" y="635.6" width="151.8" height="113.8" fill="none" stroke="#000" stroke-width="1.25"/>
<g clip-path="url(#c45)">
<g filter="url(#cm)">
<rect x="805" y="625" width="172" height="135" fill="#000"/>
<path fill="rgb(18,18,18)" d="M821.2,639.6 L824.3,628.5 L974.7,628.5 L974.7,662.8 L960.2,662 L954,663.6 L950.9,668.2 L946.3,665.9 L943.2,662 L938.6,663.6 L929.3,662.8 L926.2,658.2 L920,654.3 L913.9,652.8 L904.6,652 L895.3,655.1 L890.7,658.2 L883,657.4 L878.3,659.7 L876.8,665.9 L875.2,674.4 L869.1,675.9 L864.4,672.1 L861.3,669 L859,664.3 L853.6,661.3 L847.4,662.8 L842.8,668.2 L836.6,670.5 L832.8,668.2 L832,662.8 L827.4,659.7 L824.3,653.5 L819.6,653.5 L808.8,655.1 L808.8,647.4 Z"/>
<path fill="rgb(0,0,0)" d="M830.9,637 L833.8,628.8 L834.2,639.9 L831.4,640.3 Z"/>
<path fill="rgb(0,0,0)" d="M915.4,628.5 L926.2,628.8 L927,641.2 L921.6,640.4 L917,638.9 Z"/>
<path fill="rgb(0,0,0)" d="M864.1,655.4 L868.6,655.4 L868.6,657.2 L864.1,657.2 Z"/>
<path fill="rgb(18,18,18)" d="M858.3,721.5 L861.3,719.2 L876.8,718.4 L889.1,717.6 L901.5,716.9 L913.9,715.3 L923.1,716.9 L930.9,715.3 L938.6,712.2 L947.8,709.1 L957.1,707.6 L974.7,708.4 L974.7,710.7 L957.1,710.7 L950.9,713 L944.8,716.9 L938.6,721.5 L932.4,726.1 L926.2,730 L921.6,729.2 L920,733.9 L918.5,743.1 L913.9,746.2 L901.5,757.7 L879.9,757.7 L876.8,743.1 L872.2,735.4 L864.4,733.9 L860.6,729.2 Z"/>
<path fill="rgb(18,18,18)" d="M963.3,686 L974.7,682.9 L974.7,689.1 L964.1,689.1 Z"/>
<path fill="rgb(18,18,18)" d="M960.2,703 L963.3,701.4 L973.3,705.3 L961.7,706.1 Z"/>
<path fill="rgb(18,18,18)" d="M868,688.8 L870.9,688.8 L870.6,690.9 L868.3,690.9 Z"/>
<path fill="rgb(30,30,30)" d="M824.3,644.3 L830.4,641.2 L833.5,636.9 L858.3,628.8 L859.8,639.6 L867.5,644.3 L876.8,645.8 L886.1,641.2 L890.7,638.9 L901.5,638.9 L910.8,642.7 L912.3,647.4 L904.6,647.4 L892.2,650.4 L889.1,655.1 L876.8,655.1 L867.5,650.4 L859.8,650.4 L852.1,652 L845.9,650.4 L839.7,653.5 L838.2,659.7 L833.5,658.9 L829.7,653.5 L825.8,648.9 Z"/>
<path fill="rgb(30,30,30)" d="M943.2,658.2 L946.3,652 L947.8,648.6 L974.7,648.6 L974.7,661.3 L960.2,661.3 L950.9,660.5 Z"/>
<path fill="rgb(30,30,30)" d="M864.4,727.7 L866,723 L876.8,720.7 L889.1,719.7 L901.5,719.2 L910.8,721.5 L913.9,727.7 L913.9,733.9 L915.4,741.6 L910.8,746.2 L898.4,757.7 L881.4,757.7 L878.3,743.1 L874.5,735.4 L866.7,732.3 Z"/>
<path fill="rgb(42,42,42)" d="M832,641.2 L834.3,637.3 L842,637.3 L843.6,642.7 L839.7,648.9 L838.2,655.1 L834.3,655.1 L830.4,648.9 Z"/>
<path fill="rgb(42,42,42)" d="M860.6,639.6 L867.5,638.9 L875.2,641.2 L873.7,645.8 L867.5,646.6 L861.3,643.5 Z"/>
<path fill="rgb(42,42,42)" d="M892.2,628.8 L904.6,628.8 L904.6,642 L898.4,642.7 L893,640.4 Z"/>
<path fill="rgb(42,42,42)" d="M950.9,652 L954,649.7 L963.3,649.7 L973.3,655.1 L960.2,658.2 L954,656.6 Z"/>
<path fill="rgb(42,42,42)" d="M866.7,727.7 L868.3,724.6 L876.8,722.3 L889.1,721.5 L898.4,722.3 L901.5,727.7 L907.7,733.9 L912.3,740 L907.7,745.4 L898.4,756.3 L883,756.3 L879.9,741.6 L876,735.4 L868.3,731.5 Z"/>
<path fill="rgb(54,54,54)" d="M833.5,641.2 L835.9,638.9 L840.5,638.9 L841.3,643.5 L838.2,648.1 L834.8,647.4 Z"/>
<path fill="rgb(54,54,54)" d="M953.3,652 L957.1,650.4 L961,652 L960.2,655.9 L955.6,655.9 Z"/>
<path fill="rgb(54,54,54)" d="M876.8,733.9 L881.4,730.8 L892.2,729.2 L898.4,733.9 L901.5,740 L898.4,744.7 L889.1,747 L883,744.7 L879.9,740 Z"/>
<path fill="rgb(30,30,30)" d="M892.2,735.4 L896.1,734.6 L897.6,738.5 L893.8,740 Z"/>
<path fill="rgb(66,66,66)" d="M832.8,646.6 L835.1,643.5 L838.9,642 L840,645 L837.4,648.9 L834.3,650.1 Z"/>
<path fill="rgb(66,66,66)" d="M962.5,648.3 L974.7,648.3 L974.7,651.5 L964.1,650.8 Z"/>
<path fill="rgb(66,66,66)" d="M866,729.2 L869.8,726.1 L876.8,724.6 L887.6,723.8 L893.8,724.6 L892.2,728.5 L887.6,730.8 L879.9,732.3 L875.2,731.5 L871.4,730 Z"/>
<path fill="rgb(66,66,66)" d="M899.2,737.7 L904.6,737 L909.2,739.3 L908.5,741.6 L903,741.6 Z"/>
<path fill="rgb(66,66,66)" d="M893.8,741.6 L901.5,740.8 L906.1,743.1 L898.4,745 L894.1,745.4 Z"/>
<path fill="rgb(66,66,66)" d="M887,745.9 L891.8,745.6 L891.8,757.7 L887,757.7 Z"/>
<path fill="rgb(92,92,92)" d="M872.2,727.7 L876.8,726.1 L884.5,726.1 L889.1,727.7 L883,730 L876.8,730.5 Z"/>
<path fill="rgb(92,92,92)" d="M834.3,646.6 L836.6,644 L838.9,643.5 L838.2,647.4 L835.4,649.2 Z"/>
</g>
<use href="#tx" transform="translate(815,634.5)"/>
</g>
<rect x="944" y="636.2" width="21.6" height="11.5" fill="#fff" fill-opacity="0.9"/>
<text x="946" y="643.6" font-size="10.6" textLength="19.3" lengthAdjust="spacingAndGlyphs">p30</text>
<rect x="815.6" y="635.6" width="150.8" height="113.8" fill="none" stroke="#000" stroke-width="1.25"/>
<text x="19.18" y="26.4" font-size="13.3" font-weight="bold" stroke="#000" stroke-width="0.3" textLength="29.14" lengthAdjust="spacingAndGlyphs">GFS</text>
<text x="53.09" y="26.4" font-size="13.3" font-weight="bold" stroke="#000" stroke-width="0.3" textLength="27.11" lengthAdjust="spacingAndGlyphs">Ens</text>
<text x="83.69" y="26.4" font-size="13.3" font-weight="bold" stroke="#000" stroke-width="0.3" textLength="34.6" lengthAdjust="spacingAndGlyphs">0.25</text>
<text x="128.37" y="26.4" font-size="13.3" stroke="#000" stroke-width="0.12" textLength="21.83" lengthAdjust="spacingAndGlyphs">Init</text>
<text x="154.21" y="26.4" font-size="13.3" stroke="#000" stroke-width="0.12" textLength="22.1" lengthAdjust="spacingAndGlyphs">12z</text>
<text x="180.46" y="26.4" font-size="13.3" stroke="#000" stroke-width="0.12" textLength="15.1" lengthAdjust="spacingAndGlyphs">15</text>
<text x="198.97" y="26.4" font-size="13.3" stroke="#000" stroke-width="0.12" textLength="20.29" lengthAdjust="spacingAndGlyphs">Jan</text>
<text x="223.14" y="26.4" font-size="13.3" stroke="#000" stroke-width="0.12" textLength="30.99" lengthAdjust="spacingAndGlyphs">2022</text>
<text x="259.58" y="26.4" font-size="13.3" stroke="#000" stroke-width="0.12" textLength="6.3" lengthAdjust="spacingAndGlyphs">•</text>
<text x="270.76" y="26.4" font-size="13.3" stroke="#000" stroke-width="0.12" textLength="31.18" lengthAdjust="spacingAndGlyphs">Total</text>
<text x="306.51" y="26.4" font-size="13.3" stroke="#000" stroke-width="0.12" textLength="35.6" lengthAdjust="spacingAndGlyphs">Snow</text>
<text x="345.34" y="26.4" font-size="13.3" stroke="#000" stroke-width="0.12" textLength="30.96" lengthAdjust="spacingAndGlyphs">(10:1</text>
<text x="381.3" y="26.4" font-size="13.3" stroke="#000" stroke-width="0.12" textLength="37.74" lengthAdjust="spacingAndGlyphs">Ratio)</text>
<text x="422.17" y="26.4" font-size="13.3" stroke="#000" stroke-width="0.12" textLength="52.69" lengthAdjust="spacingAndGlyphs">(Inches)</text>
<text x="704.81" y="26.4" font-size="13.3" font-weight="bold" stroke="#000" stroke-width="0.3" textLength="38.13" lengthAdjust="spacingAndGlyphs">Hour</text>
<text x="741.78" y="26.4" font-size="13.3" stroke="#000" stroke-width="0.12" textLength="3.4" lengthAdjust="spacingAndGlyphs">:</text>
<text x="749.92" y="26.4" font-size="13.3" stroke="#000" stroke-width="0.12" textLength="23.78" lengthAdjust="spacingAndGlyphs">180</text>
<text x="778.4" y="26.4" font-size="13.3" stroke="#000" stroke-width="0.12" textLength="6.0" lengthAdjust="spacingAndGlyphs">•</text>
<text x="789.73" y="26.4" font-size="13.3" font-weight="bold" stroke="#000" stroke-width="0.3" textLength="39.32" lengthAdjust="spacingAndGlyphs">Valid</text>
<text x="828.53" y="26.4" font-size="13.3" stroke="#000" stroke-width="0.12" textLength="3.5" lengthAdjust="spacingAndGlyphs">:</text>
<text x="835.75" y="26.4" font-size="13.3" stroke="#000" stroke-width="0.12" textLength="22.74" lengthAdjust="spacingAndGlyphs">00z</text>
<text x="861.66" y="26.4" font-size="13.3" stroke="#000" stroke-width="0.12" textLength="25.38" lengthAdjust="spacingAndGlyphs">Sun</text>
<text x="890.83" y="26.4" font-size="13.3" stroke="#000" stroke-width="0.12" textLength="15.91" lengthAdjust="spacingAndGlyphs">23</text>
<text x="910.16" y="26.4" font-size="13.3" stroke="#000" stroke-width="0.12" textLength="20.33" lengthAdjust="spacingAndGlyphs">Jan</text>
<text x="933.78" y="26.4" font-size="13.3" stroke="#000" stroke-width="0.12" textLength="31.8" lengthAdjust="spacingAndGlyphs">2022</text>
<text x="119.6" y="24.5" font-size="11.5">°</text>
<rect x="23" y="767" width="11.20" height="13.2" fill="rgb(255,255,255)"/>
<rect x="33" y="767" width="12.70" height="13.2" fill="rgb(190,190,190)"/>
<rect x="44.5" y="767" width="12.70" height="13.2" fill="rgb(150,150,150)"/>
<rect x="56" y="767" width="12.70" height="13.2" fill="rgb(110,110,110)"/>
<rect x="67.5" y="767" width="12.70" height="13.2" fill="rgb(80,80,80)"/>
<rect x="79" y="767" width="12.70" height="13.2" fill="rgb(150,210,250)"/>
<rect x="90.5" y="767" width="12.70" height="13.2" fill="rgb(120,185,250)"/>
<rect x="102" y="767" width="12.70" height="13.2" fill="rgb(80,165,245)"/>
<rect x="113.5" y="767" width="12.70" height="13.2" fill="rgb(60,150,245)"/>
<rect x="125" y="767" width="12.70" height="13.2" fill="rgb(40,130,240)"/>
<rect x="136.5" y="767" width="12.70" height="13.2" fill="rgb(30,110,235)"/>
<rect x="148" y="767" width="12.70" height="13.2" fill="rgb(20,100,210)"/>
<rect x="159.5" y="767" width="12.70" height="13.2" fill="rgb(12,90,198)"/>
<rect x="171" y="767" width="12.70" height="13.2" fill="rgb(60,10,150)"/>
<rect x="182.5" y="767" width="12.70" height="13.2" fill="rgb(70,10,145)"/>
<rect x="194" y="767" width="12.70" height="13.2" fill="rgb(80,10,140)"/>
<rect x="205.5" y="767" width="12.70" height="13.2" fill="rgb(95,10,140)"/>
<rect x="217" y="767" width="12.70" height="13.2" fill="rgb(120,10,140)"/>
<rect x="228.5" y="767" width="12.70" height="13.2" fill="rgb(160,10,130)"/>
<rect x="240" y="767" width="12.70" height="13.2" fill="rgb(200,10,130)"/>
<rect x="251.5" y="767" width="12.70" height="13.2" fill="rgb(245,10,130)"/>
<rect x="263" y="767" width="12.70" height="13.2" fill="rgb(250,30,140)"/>
<rect x="274.5" y="767" width="12.70" height="13.2" fill="rgb(250,60,150)"/>
<rect x="286" y="767" width="12.70" height="13.2" fill="rgb(255,80,165)"/>
<rect x="297.5" y="767" width="12.70" height="13.2" fill="rgb(255,100,175)"/>
<rect x="309" y="767" width="12.70" height="13.2" fill="rgb(255,130,190)"/>
<rect x="320.5" y="767" width="12.70" height="13.2" fill="rgb(250,145,200)"/>
<rect x="332" y="767" width="12.70" height="13.2" fill="rgb(240,150,200)"/>
<rect x="343.5" y="767" width="12.70" height="13.2" fill="rgb(230,160,205)"/>
<rect x="355" y="767" width="12.70" height="13.2" fill="rgb(215,170,215)"/>
<rect x="366.5" y="767" width="12.70" height="13.2" fill="rgb(210,180,215)"/>
<rect x="378" y="767" width="12.70" height="13.2" fill="rgb(195,195,225)"/>
<rect x="389.5" y="767" width="12.70" height="13.2" fill="rgb(180,215,235)"/>
<rect x="401" y="767" width="12.70" height="13.2" fill="rgb(170,230,240)"/>
<rect x="412.5" y="767" width="12.70" height="13.2" fill="rgb(160,240,240)"/>
<rect x="424" y="767" width="12.70" height="13.2" fill="rgb(150,250,245)"/>
<rect x="435.5" y="767" width="12.70" height="13.2" fill="rgb(150,240,235)"/>
<rect x="447" y="767" width="12.70" height="13.2" fill="rgb(130,215,210)"/>
<rect x="458.5" y="767" width="12.70" height="13.2" fill="rgb(120,195,195)"/>
<rect x="470" y="767" width="12.70" height="13.2" fill="rgb(120,185,195)"/>
<rect x="481.5" y="767" width="12.70" height="13.2" fill="rgb(124,183,198)"/>
<rect x="493" y="767" width="12.70" height="13.2" fill="rgb(129,180,200)"/>
<rect x="504.5" y="767" width="12.70" height="13.2" fill="rgb(134,178,203)"/>
<rect x="516" y="767" width="12.70" height="13.2" fill="rgb(138,176,206)"/>
<rect x="527.5" y="767" width="12.70" height="13.2" fill="rgb(142,174,209)"/>
<rect x="539" y="767" width="12.70" height="13.2" fill="rgb(147,172,212)"/>
<rect x="550.5" y="767" width="12.70" height="13.2" fill="rgb(152,169,214)"/>
<rect x="562" y="767" width="12.70" height="13.2" fill="rgb(156,167,217)"/>
<rect x="573.5" y="767" width="12.70" height="13.2" fill="rgb(160,165,220)"/>
<rect x="585" y="767" width="12.70" height="13.2" fill="rgb(165,162,222)"/>
<rect x="596.5" y="767" width="12.70" height="13.2" fill="rgb(170,160,225)"/>
<rect x="608" y="767" width="12.70" height="13.2" fill="rgb(174,158,228)"/>
<rect x="619.5" y="767" width="12.70" height="13.2" fill="rgb(178,156,231)"/>
<rect x="631" y="767" width="12.70" height="13.2" fill="rgb(183,154,234)"/>
<rect x="642.5" y="767" width="12.70" height="13.2" fill="rgb(188,151,236)"/>
<rect x="654" y="767" width="12.70" height="13.2" fill="rgb(192,149,239)"/>
<rect x="665.5" y="767" width="12.70" height="13.2" fill="rgb(196,147,242)"/>
<rect x="677" y="767" width="12.70" height="13.2" fill="rgb(201,144,244)"/>
<rect x="688.5" y="767" width="11.50" height="13.2" fill="rgb(206,142,247)"/>
<rect x="23.4" y="766.8" width="677" height="13.6" fill="none" stroke="#000" stroke-width="1.1"/>
<text x="34" y="762.6" font-size="10.4" text-anchor="middle" stroke="#000" stroke-width="0.1">0.1</text>
<text x="57" y="762.6" font-size="10.4" text-anchor="middle" stroke="#000" stroke-width="0.1">1</text>
<text x="79.9" y="762.6" font-size="10.4" text-anchor="middle" stroke="#000" stroke-width="0.1">2</text>
<text x="102.9" y="762.6" font-size="10.4" text-anchor="middle" stroke="#000" stroke-width="0.1">3</text>
<text x="125.8" y="762.6" font-size="10.4" text-anchor="middle" stroke="#000" stroke-width="0.1">4</text>
<text x="148.8" y="762.6" font-size="10.4" text-anchor="middle" stroke="#000" stroke-width="0.1">5</text>
<text x="171.7" y="762.6" font-size="10.4" text-anchor="middle" stroke="#000" stroke-width="0.1">6</text>
<text x="194.7" y="762.6" font-size="10.4" text-anchor="middle" stroke="#000" stroke-width="0.1">7</text>
<text x="217.6" y="762.6" font-size="10.4" text-anchor="middle" stroke="#000" stroke-width="0.1">8</text>
<text x="240.6" y="762.6" font-size="10.4" text-anchor="middle" stroke="#000" stroke-width="0.1">9</text>
<text x="263.5" y="762.6" font-size="10.4" text-anchor="middle" stroke="#000" stroke-width="0.1">10</text>
<text x="286.5" y="762.6" font-size="10.4" text-anchor="middle" stroke="#000" stroke-width="0.1">12</text>
<text x="309.4" y="762.6" font-size="10.4" text-anchor="middle" stroke="#000" stroke-width="0.1">14</text>
<text x="332.4" y="762.6" font-size="10.4" text-anchor="middle" stroke="#000" stroke-width="0.1">16</text>
<text x="355.3" y="762.6" font-size="10.4" text-anchor="middle" stroke="#000" stroke-width="0.1">18</text>
<text x="378.3" y="762.6" font-size="10.4" text-anchor="middle" stroke="#000" stroke-width="0.1">20</text>
<text x="401.2" y="762.6" font-size="10.4" text-anchor="middle" stroke="#000" stroke-width="0.1">22</text>
<text x="424.2" y="762.6" font-size="10.4" text-anchor="middle" stroke="#000" stroke-width="0.1">24</text>
<text x="447.1" y="762.6" font-size="10.4" text-anchor="middle" stroke="#000" stroke-width="0.1">26</text>
<text x="470.1" y="762.6" font-size="10.4" text-anchor="middle" stroke="#000" stroke-width="0.1">28</text>
<text x="493" y="762.6" font-size="10.4" text-anchor="middle" stroke="#000" stroke-width="0.1">30</text>
<text x="516" y="762.6" font-size="10.4" text-anchor="middle" stroke="#000" stroke-width="0.1">32</text>
<text x="538.9" y="762.6" font-size="10.4" text-anchor="middle" stroke="#000" stroke-width="0.1">34</text>
<text x="561.9" y="762.6" font-size="10.4" text-anchor="middle" stroke="#000" stroke-width="0.1">36</text>
<text x="584.8" y="762.6" font-size="10.4" text-anchor="middle" stroke="#000" stroke-width="0.1">38</text>
<text x="607.8" y="762.6" font-size="10.4" text-anchor="middle" stroke="#000" stroke-width="0.1">40</text>
<text x="630.8" y="762.6" font-size="10.4" text-anchor="middle" stroke="#000" stroke-width="0.1">42</text>
<text x="653.7" y="762.6" font-size="10.4" text-anchor="middle" stroke="#000" stroke-width="0.1">44</text>
<text x="676.7" y="762.6" font-size="10.4" text-anchor="middle" stroke="#000" stroke-width="0.1">46</text>
<text x="699.6" y="762.6" font-size="10.4" text-anchor="middle" stroke="#000" stroke-width="0.1">48</text>
<text x="16.4" y="794.9" font-size="8.8" textLength="397.6" lengthAdjust="spacingAndGlyphs">© 2022 WeatherBELL Analytics, LLC. All rights reserved. License required for commercial distribution.</text>
<g id="logo">
<ellipse cx="926" cy="777" rx="14.2" ry="9.6" transform="rotate(18 926 777)" fill="#b0b0b0"/>
<path d="M912,765 C905,772 909,785 922,789 C933,792 941,789 943,782" fill="none" stroke="#c4c4c4" stroke-width="1.6"/>
<path d="M915,763.5 C925,760 938,763 944,772 C947,778 946,784 943,787" fill="none" stroke="#c8c8c8" stroke-width="1.3"/>
<path d="M909.5,770 C907,780 914,788.5 926,790.8 C934,792 940,790 942.5,786" fill="none" stroke="#d2d2d2" stroke-width="1"/>
<path d="M923,768 C932,768 940,772 943,780" fill="none" stroke="#d8d8d8" stroke-width="1"/>
<text class="ser" x="919.3" y="778.3" font-size="5.6" font-weight="bold" style="fill:#444;stroke:#444;stroke-width:0.15" textLength="25.5" lengthAdjust="spacingAndGlyphs">WEATHER</text>
<text class="ser" x="945" y="778.4" font-size="7.4" font-weight="bold" style="fill:#7c7c7c;stroke:#7c7c7c;stroke-width:0.25" textLength="20.6" lengthAdjust="spacingAndGlyphs">BELL</text>
<text class="ser" x="945.6" y="781.8" font-size="2.6" font-weight="bold" style="fill:#8a8a8a" textLength="20" lengthAdjust="spacingAndGlyphs">ANALYTICS LLC</text>
</g>
</g>
</svg></body></html>
